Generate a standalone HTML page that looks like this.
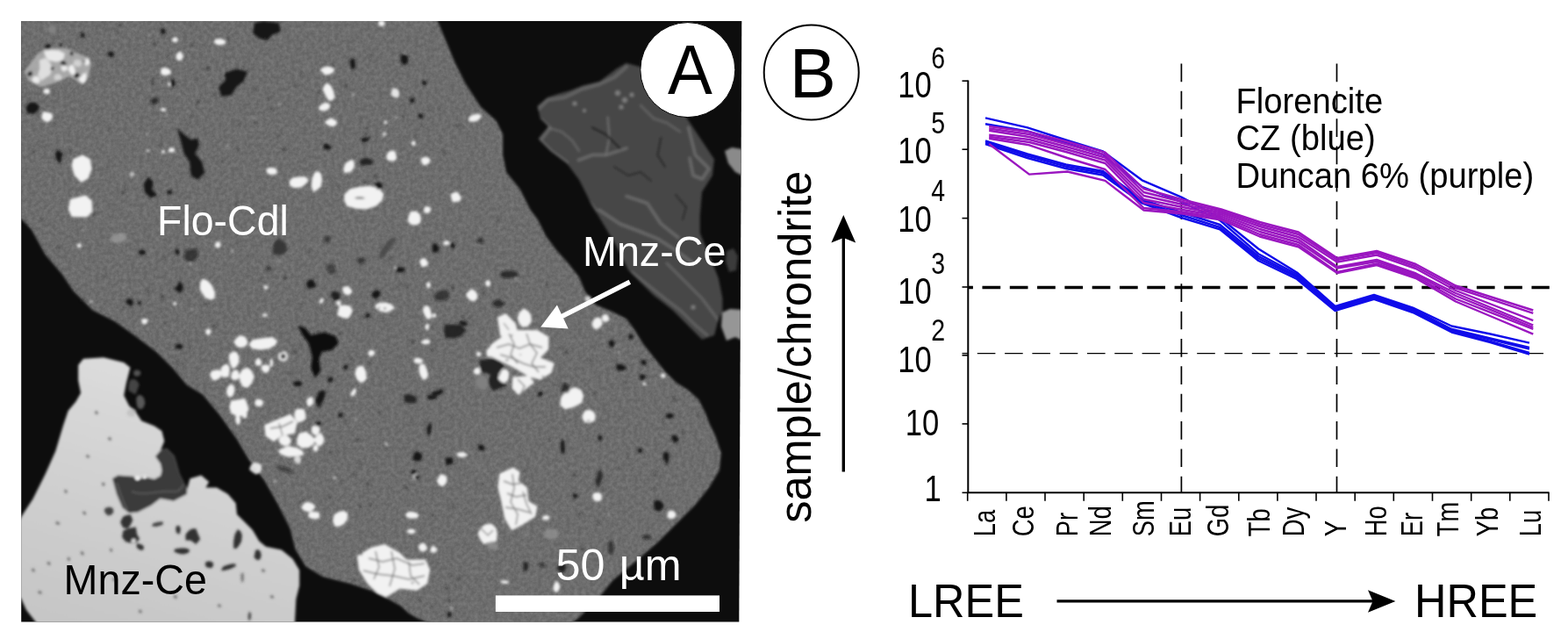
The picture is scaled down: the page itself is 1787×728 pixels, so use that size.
<!DOCTYPE html>
<html lang="en"><head><meta charset="utf-8"><title>Figure</title>
<style>
html,body{margin:0;padding:0;background:#fff;}
body{width:1787px;height:728px;overflow:hidden;}
svg{display:block;font-family:"Liberation Sans",sans-serif;}
</style></head><body>
<svg width="1787" height="728" viewBox="0 0 1787 728">
<defs>
<clipPath id="imgclip"><polygon points="24.2,24 845.3,24 842.3,708.4 24.2,708.4"/></clipPath>
<filter id="grain" x="20" y="20" width="830" height="692" filterUnits="userSpaceOnUse" color-interpolation-filters="sRGB">
<feTurbulence type="fractalNoise" baseFrequency="0.22" numOctaves="3" seed="4" result="t"/>
<feColorMatrix in="t" type="matrix" values="1.8 0 0 0 -0.46  1.8 0 0 0 -0.46  1.8 0 0 0 -0.46  0 0 0 0 1"/>
<feGaussianBlur stdDeviation="0.6"/>
</filter>
<linearGradient id="mnzg" gradientUnits="userSpaceOnUse" x1="150" y1="410" x2="60" y2="700"><stop offset="0" stop-color="#dcdcdc"/><stop offset="0.5" stop-color="#d0d0d0"/><stop offset="1" stop-color="#c6c6c6"/></linearGradient>
<clipPath id="dgclip"><polygon points="612.4,120.7 624.0,111.0 636.7,106.7 650.0,103.0 664.7,97.3 683.4,92.7 702.0,78.7 713.7,71.7 730.0,76.3 760.0,100.0 786.0,139.4 804.7,167.4 814.0,181.4 811.8,200.0 800.0,218.7 797.7,246.7 797.7,265.4 809.4,293.4 818.8,316.8 823.4,340.0 823.4,354.0 818.8,363.4 814.0,382.0 800.0,386.8 786.0,372.8 767.4,354.0 744.0,335.4 730.0,321.4 716.0,307.4 702.0,279.4 688.0,256.0 674.0,232.7 660.0,204.7 646.0,186.0 627.3,172.0 613.3,158.0 625.0,144.0 615.7,134.7"/></clipPath>
<clipPath id="mgclip"><polygon points="10.0,10.0 494.0,10.0 498.7,24.0 508.5,47.4 518.3,70.9 530.0,94.4 547.7,121.8 565.3,137.5 573.1,153.1 573.1,176.6 577.0,196.2 592.7,215.8 604.5,239.3 612.7,250.0 622.0,268.7 634.0,285.0 647.5,300.0 660.0,315.8 666.4,331.6 679.0,347.4 698.0,355.3 713.8,363.2 723.3,375.9 732.8,391.7 745.4,407.5 758.0,423.3 770.7,436.0 783.4,443.8 796.0,454.9 804.0,470.7 808.7,483.3 815.0,496.0 821.8,516.1 819.8,535.7 808.1,555.3 792.4,574.9 772.9,594.5 749.4,618.0 722.0,641.5 698.5,661.0 682.8,680.6 659.3,704.1 652.0,709.0 650.0,720.0 484.0,720.0 486.0,708.5 475.0,704.0 465.6,698.6 457.0,690.5 446.2,684.5 422.8,672.8 399.3,664.9 367.9,657.1 348.4,645.3 336.6,625.8 330.7,602.3 317.0,574.9 301.4,547.5 283.8,524.0 270.0,500.5 250.5,473.1 230.9,449.6 212.8,438.6 197.0,419.6 178.0,400.7 152.7,381.7 130.6,365.9 105.3,353.3 83.2,331.1 70.6,312.2 51.6,290.0 35.8,261.6 24.0,249.0 10.0,236.0"/></clipPath>
<filter id="soft" x="0" y="0" width="1787" height="728" filterUnits="userSpaceOnUse"><feGaussianBlur stdDeviation="1.5"/></filter>
</defs>
<rect width="1787" height="728" fill="#fff"/>
<g clip-path="url(#imgclip)">
<rect x="20" y="20" width="830" height="692" fill="#0d0d0d"/>
<g filter="url(#soft)">
<polygon points="612.4,120.7 624.0,111.0 636.7,106.7 650.0,103.0 664.7,97.3 683.4,92.7 702.0,78.7 713.7,71.7 730.0,76.3 760.0,100.0 786.0,139.4 804.7,167.4 814.0,181.4 811.8,200.0 800.0,218.7 797.7,246.7 797.7,265.4 809.4,293.4 818.8,316.8 823.4,340.0 823.4,354.0 818.8,363.4 814.0,382.0 800.0,386.8 786.0,372.8 767.4,354.0 744.0,335.4 730.0,321.4 716.0,307.4 702.0,279.4 688.0,256.0 674.0,232.7 660.0,204.7 646.0,186.0 627.3,172.0 613.3,158.0 625.0,144.0 615.7,134.7" fill="#464646"/>
<g clip-path="url(#dgclip)"><polyline points="614.0,124.0 624.0,114.0 643.6,111.0 663.2,101.5 682.8,96.0 700.4,88.0 714.1,76.0" fill="none" stroke="#757575" stroke-width="4" stroke-opacity="0.6" stroke-linejoin="round" stroke-linecap="round"/>
<polyline points="616.0,136.0 627.0,146.0 616.0,160.0 628.0,172.0 646.0,185.0" fill="none" stroke="#757575" stroke-width="4" stroke-opacity="0.6" stroke-linejoin="round" stroke-linecap="round"/>
<polyline points="659.3,182.5 675.0,176.6 690.6,176.6 714.1,168.8" fill="none" stroke="#757575" stroke-width="3.5" stroke-opacity="0.7" stroke-linejoin="round" stroke-linecap="round"/>
<polyline points="692.6,133.6 694.5,157.0 690.6,176.6" fill="none" stroke="#757575" stroke-width="2.5" stroke-opacity="0.7" stroke-linejoin="round" stroke-linecap="round"/>
<polyline points="784.6,145.3 792.4,176.6 808.0,192.3 800.3,204.0 790.0,200.0 786.0,180.0" fill="none" stroke="#757575" stroke-width="3.5" stroke-opacity="0.7" stroke-linejoin="round" stroke-linecap="round"/>
<polyline points="714.1,223.6 737.6,231.5 753.3,255.0 772.9,270.6" fill="none" stroke="#757575" stroke-width="3.5" stroke-opacity="0.7" stroke-linejoin="round" stroke-linecap="round"/>
<polyline points="682.8,239.3 706.3,255.0 729.8,264.0 749.4,272.0 770.0,285.0 790.0,300.0" fill="none" stroke="#757575" stroke-width="3.5" stroke-opacity="0.7" stroke-linejoin="round" stroke-linecap="round"/>
<polyline points="626.0,146.0 640.0,150.0 652.0,160.0 660.0,172.0" fill="none" stroke="#757575" stroke-width="2.5" stroke-opacity="0.6" stroke-linejoin="round" stroke-linecap="round"/>
<polyline points="640.0,186.0 652.0,204.0 664.0,220.0 680.0,240.0" fill="none" stroke="#757575" stroke-width="2.5" stroke-opacity="0.6" stroke-linejoin="round" stroke-linecap="round"/>
<polyline points="730.0,120.0 745.0,135.0 760.0,140.0 775.0,150.0" fill="none" stroke="#757575" stroke-width="2.5" stroke-opacity="0.6" stroke-linejoin="round" stroke-linecap="round"/>
<polyline points="760.0,300.0 780.0,320.0 800.0,340.0 815.0,360.0 825.0,375.0" fill="none" stroke="#757575" stroke-width="3" stroke-opacity="0.6" stroke-linejoin="round" stroke-linecap="round"/>
<polyline points="720.0,310.0 740.0,326.0 760.0,342.0 776.0,354.0 792.0,370.0 806.0,382.0" fill="none" stroke="#757575" stroke-width="3" stroke-opacity="0.6" stroke-linejoin="round" stroke-linecap="round"/>
<polyline points="675.0,145.3 690.6,153.1 706.3,168.8" fill="none" stroke="#1c1c1c" stroke-width="2.5" stroke-opacity="0.8" stroke-linejoin="round" stroke-linecap="round"/>
<polyline points="753.3,157.0 749.4,176.6 758.0,190.0" fill="none" stroke="#1c1c1c" stroke-width="2" stroke-opacity="0.8" stroke-linejoin="round" stroke-linecap="round"/>
<polyline points="700.0,190.0 716.0,200.0 730.0,196.0 742.0,206.0" fill="none" stroke="#1c1c1c" stroke-width="2" stroke-opacity="0.7" stroke-linejoin="round" stroke-linecap="round"/>
<polyline points="770.0,222.0 782.0,236.0 778.0,250.0" fill="none" stroke="#1c1c1c" stroke-width="2" stroke-opacity="0.7" stroke-linejoin="round" stroke-linecap="round"/>
<circle cx="704" cy="106" r="3" fill="#8a8a8a" fill-opacity="0.8"/>
<circle cx="712" cy="114" r="3" fill="#8a8a8a" fill-opacity="0.8"/>
<circle cx="720" cy="108" r="2.5" fill="#8a8a8a" fill-opacity="0.8"/>
<circle cx="708" cy="122" r="2.5" fill="#8a8a8a" fill-opacity="0.8"/>
<circle cx="655" cy="118" r="2.5" fill="#8a8a8a" fill-opacity="0.8"/>
<circle cx="666" cy="126" r="2" fill="#8a8a8a" fill-opacity="0.8"/>
<circle cx="745" cy="340" r="3" fill="#8a8a8a" fill-opacity="0.8"/>
<circle cx="790" cy="350" r="2.5" fill="#8a8a8a" fill-opacity="0.8"/></g>
<polygon points="826,172 834,168 846,170 846,200 838,196 830,186" fill="#8a8a8a"/>
<polygon points="823,356 832,352 846,353 846,388 838,384 828,388 822,372" fill="#969696"/>
<polygon points="828,286 836,283 841,292 839,308 831,310 827,298" fill="#3a3a3a"/>
<polygon points="10.0,10.0 494.0,10.0 498.7,24.0 508.5,47.4 518.3,70.9 530.0,94.4 547.7,121.8 565.3,137.5 573.1,153.1 573.1,176.6 577.0,196.2 592.7,215.8 604.5,239.3 612.7,250.0 622.0,268.7 634.0,285.0 647.5,300.0 660.0,315.8 666.4,331.6 679.0,347.4 698.0,355.3 713.8,363.2 723.3,375.9 732.8,391.7 745.4,407.5 758.0,423.3 770.7,436.0 783.4,443.8 796.0,454.9 804.0,470.7 808.7,483.3 815.0,496.0 821.8,516.1 819.8,535.7 808.1,555.3 792.4,574.9 772.9,594.5 749.4,618.0 722.0,641.5 698.5,661.0 682.8,680.6 659.3,704.1 652.0,709.0 650.0,720.0 484.0,720.0 486.0,708.5 475.0,704.0 465.6,698.6 457.0,690.5 446.2,684.5 422.8,672.8 399.3,664.9 367.9,657.1 348.4,645.3 336.6,625.8 330.7,602.3 317.0,574.9 301.4,547.5 283.8,524.0 270.0,500.5 250.5,473.1 230.9,449.6 212.8,438.6 197.0,419.6 178.0,400.7 152.7,381.7 130.6,365.9 105.3,353.3 83.2,331.1 70.6,312.2 51.6,290.0 35.8,261.6 24.0,249.0 10.0,236.0" fill="#6e6e6e"/>
<polygon points="10.0,612.0 24.0,589.0 37.3,568.8 51.7,540.0 63.3,514.0 71.9,485.2 77.7,467.9 86.3,457.8 92.1,447.7 89.2,433.3 89.2,416.0 95.0,408.7 118.0,407.3 141.2,413.0 148.4,418.8 144.0,436.0 141.2,450.6 147.0,462.0 155.6,470.8 161.3,479.4 175.8,485.2 184.4,491.0 187.3,502.5 183.0,513.0 190.2,511.0 198.8,519.8 204.6,540.0 213.3,557.3 216.6,545.3 229.3,541.4 238.2,549.0 234.4,555.4 247.0,555.4 259.8,563.0 268.7,573.2 270.0,585.9 277.6,593.6 287.8,603.7 295.4,616.4 303.0,622.8 320.9,626.6 333.6,636.8 341.2,649.5 341.2,667.3 337.4,682.5 336.0,709.0 336.0,720.0 44.0,720.0 41.0,709.0 30.0,695.0 24.0,682.0 10.0,676.0" fill="url(#mnzg)"/>
<polygon points="128.0,545.2 134.4,541.4 152.1,542.7 156.0,547.5 164.2,543.0 175.8,546.0 183.0,542.0 184.4,536.0 183.0,528.5 177.0,520.0 183.0,513.0 190.2,511.0 198.8,519.8 204.6,540.0 213.3,557.3 213.0,563.0 198.0,570.7 182.6,568.0 172.5,575.7 157.2,583.4 147.0,584.6 139.4,578.3 133.0,563.0" fill="#3a3a3a"/>
<path d="M133,550 C137,562 140,572 145,581 M150,560 C165,566 180,558 200,560 C204,560 207,556 209,552" fill="none" stroke="#666" stroke-width="1.6" stroke-opacity="0.8"/>
</g>
<g clip-path="url(#mgclip)"><rect x="20" y="20" width="830" height="692" filter="url(#grain)" opacity="0.075"/></g>
<g filter="url(#soft)">
<polygon points="27.4,82.0 42.2,62.0 52.0,54.7 75.6,54.7 89.2,61.0 101.6,65.8 104.0,73.3 100.3,89.3 94.2,96.7 79.3,86.9 63.3,94.3 47.2,99.2 32.4,91.8" fill="#b2b2b2" fill-opacity="0.85"/>
<polygon points="51.3,63.3 50.2,57.9 59.0,56.9 67.0,57.6 73.9,61.1 72.8,65.3 71.3,69.3 63.7,70.5 54.7,68.4" fill="#ececec" fill-opacity="0.95"/>
<polygon points="56.9,85.4 52.7,88.0 47.2,91.9 43.0,85.4 45.4,78.1 44.9,68.5 51.7,66.0 57.1,71.3 59.5,78.7" fill="#e6e6e6" fill-opacity="0.9"/>
<polygon points="74.9,80.4 72.5,81.6 70.5,80.0 69.4,77.8 70.1,75.4 72.2,74.3 74.8,74.1 76.6,76.0 77.3,78.9" fill="#eee" fill-opacity="0.95"/>
<polygon points="36.3,90.1 37.9,87.7 40.7,86.4 43.7,87.4 45.1,89.8 45.7,92.7 43.1,94.9 39.6,94.8 37.0,92.9" fill="#eee" fill-opacity="0.95"/>
<polygon points="86.2,75.4 83.8,73.7 83.8,71.2 84.8,68.5 88.3,68.1 91.8,68.8 92.8,71.6 92.8,74.5 89.6,76.3" fill="#ddd" fill-opacity="0.8"/>
<polygon points="70.5,88.0 70.3,90.6 66.8,91.4 63.1,91.5 61.5,89.1 61.9,87.0 63.4,84.8 67.0,84.2 69.6,85.9" fill="#ddd" fill-opacity="0.8"/>
<polygon points="85.8,81.1 85.4,85.0 82.4,85.6 79.8,82.8 78.0,79.6 78.4,76.3 80.1,74.5 82.8,73.8 84.9,77.4" fill="#f2f2f2"/>
<polygon points="95.8,69.4 97.5,67.6 99.7,66.6 101.4,68.6 102.7,70.9 101.3,73.1 99.5,74.7 97.4,73.9 95.9,72.0" fill="#f2f2f2"/>
<polygon points="98.5,89.8 97.5,92.4 95.8,94.8 93.0,94.0 90.9,92.6 89.8,89.9 91.5,87.4 94.2,87.1 97.1,87.0" fill="#f2f2f2"/>
<polygon points="96.6,88.9 94.5,89.1 93.4,87.3 93.3,85.4 94.6,84.0 96.3,83.6 98.2,84.1 98.7,86.0 98.5,88.1" fill="#f2f2f2"/>
<polygon points="50.7,106.1 48.8,104.4 50.1,102.3 52.3,101.1 55.2,100.9 56.6,102.8 56.9,104.6 56.1,106.7 53.1,107.3" fill="#f2f2f2"/>
<polygon points="54.6,55.9 51.8,55.9 50.2,53.5 52.6,51.8 54.6,49.7 57.6,50.9 58.3,53.5 57.0,55.5" fill="#161616"/>
<polygon points="70.5,53.1 69.7,54.7 68.4,53.5 67.2,52.5 68.0,51.2 69.1,49.8 70.7,50.5 71.1,52.0" fill="#161616"/>
<polygon points="73.8,75.0 71.2,74.1 69.4,73.1 68.6,71.0 70.1,68.8 73.2,69.0 74.7,70.8 76.2,73.2" fill="#161616" fill-opacity="0.8"/>
<polygon points="60.1,79.9 58.6,80.1 57.3,78.9 58.0,77.3 59.0,76.3 60.7,76.2 62.1,77.5 61.3,79.1" fill="#161616" fill-opacity="0.8"/>
<polygon points="32.4,87.2 30.9,84.7 32.3,82.3 34.5,81.1 36.8,82.0 37.1,84.2 36.4,85.8 35.0,86.5" fill="#161616"/>
<polygon points="90.2,84.4 91.1,87.0 88.5,88.0 86.7,89.4 84.9,87.8 84.1,85.5 86.0,83.9 88.2,82.4" fill="#161616"/>
<polygon points="83.6,61.9 82.5,63.2 80.7,63.2 79.6,61.7 79.8,60.0 81.1,58.8 82.9,58.8 83.5,60.4" fill="#161616"/>
<polygon points="93.0,37.2 95.3,37.2 96.4,39.1 96.9,41.1 95.4,42.8 93.2,42.4 91.7,41.1 92.0,39.1" fill="#161616"/>
<polygon points="123.5,60.4 125.7,59.8 127.9,59.2 130.0,61.0 129.5,63.8 127.2,65.3 124.9,64.4 123.0,62.9" fill="#161616"/>
<polygon points="55.3,31.3 57.6,28.5 61.0,29.6 64.2,30.9 63.8,34.4 63.0,37.6 59.7,38.7 56.7,37.2 54.4,34.7" fill="#828282"/>
<polygon points="182.9,81.7 183.8,78.0 188.0,77.1 191.5,77.9 194.3,79.9 195.1,83.3 191.9,85.5 188.3,86.0 184.0,85.3" fill="#f2f2f2"/>
<polygon points="202.8,60.1 205.5,58.6 207.7,61.0 209.1,64.0 207.8,66.9 205.7,69.0 202.9,69.1 200.7,66.4 200.6,62.5" fill="#f2f2f2"/>
<polygon points="196.5,47.3 195.9,45.4 196.8,43.7 198.5,42.4 201.0,42.4 202.8,44.1 202.7,46.3 201.3,48.2 198.7,48.1" fill="#f2f2f2"/>
<polygon points="253.2,51.2 249.0,51.4 245.5,50.1 243.8,47.7 245.0,45.1 249.1,43.9 253.2,44.6 256.9,46.3 257.1,49.4" fill="#f2f2f2"/>
<polygon points="47.4,134.6 47.7,131.1 49.6,127.1 54.5,128.1 59.1,129.2 60.3,133.4 58.0,136.9 54.2,139.6 50.0,137.4" fill="#f2f2f2"/>
<polygon points="83.2,181.2 94.3,176.4 102.8,181.2 104.7,192.2 100.6,203.3 92.7,208.0 84.8,200.1 81.6,189.1" fill="#f2f2f2"/>
<polygon points="80.0,227.0 97.4,222.3 104.7,228.6 105.3,241.2 99.0,247.5 81.6,246.9 77.8,238.0" fill="#f2f2f2"/>
<polygon points="198.0,173.2 195.5,173.5 192.6,173.6 191.8,171.5 192.3,169.7 194.2,168.6 196.7,168.0 198.8,169.5 199.5,171.5" fill="#f2f2f2"/>
<polygon points="184.8,171.2 186.2,170.7 187.5,171.5 187.8,172.9 187.6,174.2 186.4,174.7 185.3,174.5 184.2,173.8 183.9,172.4" fill="#f2f2f2"/>
<polygon points="169.1,173.0 168.1,173.1 167.2,172.6 167.0,171.6 167.4,170.6 168.3,170.1 169.3,170.5 170.1,171.3 170.0,172.4" fill="#f2f2f2"/>
<polygon points="188.9,126.2 187.0,127.0 185.0,126.6 183.4,125.9 182.9,124.6 183.9,123.2 186.1,123.1 188.0,123.5 189.3,124.7" fill="#f2f2f2"/>
<polygon points="151.5,195.3 153.0,197.0 153.6,199.0 152.4,200.6 150.7,201.8 148.5,201.3 147.4,199.3 147.6,197.2 149.4,196.1" fill="#f2f2f2" fill-opacity="0.6"/>
<polygon points="195.1,94.4 195.5,96.0 194.7,97.2 193.4,98.0 192.2,97.4 191.0,96.4 191.2,94.9 192.4,94.1 193.6,94.1" fill="#f2f2f2"/>
<polygon points="255.5,83.2 269.7,78.5 282.3,81.6 277.6,92.7 269.7,99.0 263.4,108.5 252.3,110.0 249.1,99.0 257.0,91.0" fill="#161616"/>
<polygon points="201.7,146.4 209.6,152.7 217.5,159.0 225.4,157.5 227.0,165.4 222.3,174.9 230.2,184.3 233.3,197.0 225.4,204.9 217.5,200.1 216.0,184.3 209.6,174.9 206.5,162.2" fill="#161616"/>
<polygon points="168.5,201.7 174.9,206.5 173.3,216.0 179.6,222.3 171.7,225.4 164.7,219.1 163.8,209.6" fill="#161616"/>
<polygon points="63.6,181.0 63.1,174.3 66.0,170.6 68.6,172.7 71.8,174.5 70.1,180.4 69.1,186.8 66.1,183.9" fill="#161616"/>
<polygon points="31.0,128.8 29.7,123.9 30.4,120.3 33.8,116.8 40.4,116.8 45.1,120.9 43.5,126.1 38.3,130.1" fill="#161616"/>
<polygon points="122.1,61.2 124.2,59.5 125.8,58.5 127.9,58.7 128.5,60.9 128.4,63.3 126.1,64.2 123.9,63.3" fill="#161616"/>
<polygon points="187.7,33.2 188.6,35.3 188.3,37.3 186.7,39.3 183.9,38.9 183.6,36.3 183.0,33.8 185.2,32.0" fill="#161616"/>
<polygon points="171.2,114.2 174.0,112.2 177.2,110.8 180.4,112.4 181.7,115.4 178.5,117.1 175.4,119.9 172.3,117.2" fill="#161616" fill-opacity="0.7"/>
<polygon points="194.1,97.1 193.9,93.6 195.3,91.1 197.5,89.9 198.8,92.6 200.0,94.9 198.7,97.4 196.4,99.3" fill="#161616"/>
<polygon points="196.1,217.8 196.6,219.9 194.9,221.1 192.9,221.8 190.6,220.7 190.2,217.9 192.4,216.4 194.6,216.4" fill="#161616"/>
<polygon points="376.2,84.8 370.3,85.4 367.2,82.3 364.6,79.2 368.7,76.8 373.1,75.5 377.8,76.4 381.5,79.0 379.8,82.3" fill="#f2f2f2"/>
<polygon points="374.3,114.5 370.7,108.4 367.6,101.5 369.9,97.0 372.9,94.2 377.4,98.0 380.3,104.1 381.4,111.0 378.7,114.7" fill="#f2f2f2"/>
<polygon points="365.9,126.3 362.9,124.6 363.8,121.4 366.5,118.7 370.9,116.8 375.0,117.7 376.2,120.6 375.0,124.1 370.4,126.4" fill="#f2f2f2"/>
<polygon points="381.0,136.3 384.2,138.5 383.6,141.8 380.0,144.2 375.4,143.5 372.1,141.7 370.0,138.8 373.4,136.4 377.1,134.3" fill="#f2f2f2"/>
<polygon points="454.0,102.5 455.3,105.9 454.8,110.1 451.6,111.4 448.6,110.6 445.5,108.3 446.1,104.1 447.9,100.4 451.4,100.8" fill="#f2f2f2" fill-opacity="0.9"/>
<polygon points="534.3,138.0 534.0,135.3 535.2,132.8 539.2,130.4 545.2,129.8 549.2,131.7 547.2,134.8 544.7,137.4 539.2,138.9" fill="#f2f2f2"/>
<polygon points="430.7,26.2 432.2,23.9 434.4,22.9 436.7,23.3 438.1,25.2 438.7,27.8 436.9,29.8 434.1,30.3 432.1,28.5" fill="#f2f2f2"/>
<polygon points="311.1,199.0 306.9,198.9 303.7,196.1 303.6,192.5 307.3,191.1 310.7,191.0 315.0,191.9 315.8,195.3 315.1,198.4" fill="#f2f2f2"/>
<polygon points="336.1,214.3 330.4,211.8 329.5,207.1 332.9,202.4 340.2,201.4 347.6,201.0 352.0,205.0 348.4,209.8 343.5,213.6" fill="#f2f2f2"/>
<polygon points="363.1,195.0 366.2,198.4 367.1,204.9 365.9,212.6 361.9,216.0 357.4,219.0 354.8,212.8 355.5,204.1 358.6,196.2" fill="#f2f2f2"/>
<polygon points="398.0,182.9 402.0,182.0 403.9,185.3 403.9,190.5 400.1,195.8 395.9,196.8 391.9,196.9 391.5,191.8 393.7,186.1" fill="#f2f2f2"/>
<polygon points="421.2,211.8 432.1,214.5 437.4,221.0 435.6,228.3 428.7,234.8 417.5,238.5 405.6,237.8 395.2,234.8 392.3,228.2 392.4,221.4 398.8,215.3 409.8,212.7" fill="#f2f2f2"/>
<polygon points="406.1,226.5 403.9,225.8 405.2,225.0 407.4,224.2 411.9,224.3 414.8,224.9 416.2,225.7 414.1,226.4 410.2,226.7" fill="#777"/>
<polygon points="441.3,182.5 440.3,178.0 441.7,173.9 445.5,171.6 450.1,172.0 451.4,176.3 452.4,180.1 449.8,183.6 445.6,183.4" fill="#f2f2f2"/>
<polygon points="480.7,185.6 479.6,182.7 480.7,179.7 484.0,178.8 487.4,179.3 490.5,181.6 489.6,185.2 486.9,187.6 482.9,188.7" fill="#f2f2f2"/>
<polygon points="513.3,221.9 516.9,219.2 521.2,218.4 523.8,221.8 525.8,225.3 524.2,229.3 520.1,229.9 515.7,230.4 514.5,226.2" fill="#f2f2f2"/>
<polygon points="483.5,239.3 483.5,236.7 485.6,234.8 488.2,235.5 490.9,236.4 490.8,239.4 489.6,241.8 487.0,242.8 484.6,241.6" fill="#f2f2f2"/>
<polygon points="439.1,141.5 438.0,140.7 437.7,139.4 438.0,138.0 439.4,137.6 440.5,138.1 441.4,139.0 441.2,140.2 440.4,141.1" fill="#f2f2f2"/>
<polygon points="438.1,150.3 439.9,150.6 440.7,152.3 439.8,153.8 438.9,155.4 437.0,155.4 436.1,153.7 435.2,152.1 436.5,150.8" fill="#f2f2f2" fill-opacity="0.7"/>
<polygon points="468.4,163.6 469.3,162.0 470.4,160.8 472.3,160.6 473.6,161.9 473.6,163.7 473.0,165.5 471.1,166.0 469.5,165.1" fill="#f2f2f2"/>
<polygon points="290.0,26.0 300.0,24.0 318.0,26.0 320.0,36.0 310.0,40.0 305.0,46.0 296.0,44.0 288.0,38.0" fill="#161616"/>
<polygon points="464.2,72.4 460.5,74.2 457.5,71.7 456.6,67.7 456.4,62.7 460.0,62.0 463.4,62.3 465.7,66.9" fill="#161616"/>
<polygon points="399.2,73.5 398.9,69.1 400.9,66.6 403.4,66.0 404.6,70.4 405.1,75.9 402.8,79.4 400.0,78.1" fill="#161616"/>
<polygon points="418.5,188.1 412.5,189.0 409.9,184.7 412.4,180.8 417.6,179.7 422.0,181.0 425.9,183.9 423.6,187.7" fill="#161616" fill-opacity="0.85"/>
<polygon points="368.1,165.2 371.4,163.6 374.8,164.9 376.8,166.5 378.0,169.1 373.9,170.7 369.3,170.1 369.1,167.5" fill="#161616"/>
<polygon points="419.9,160.0 417.8,161.6 413.9,162.0 412.4,159.9 411.1,157.9 414.4,156.9 417.3,156.9 421.0,157.7" fill="#161616"/>
<polygon points="426.6,209.9 429.6,207.9 433.2,207.4 435.4,209.7 436.0,212.3 434.3,215.3 429.8,215.8 428.4,212.5" fill="#161616"/>
<polygon points="472.2,116.6 469.7,117.4 467.2,116.7 467.1,114.3 467.5,112.2 469.5,111.6 472.0,111.6 472.4,114.1" fill="#161616"/>
<polygon points="476.9,129.0 479.6,129.6 481.6,130.4 482.5,132.8 481.2,135.3 478.6,135.0 476.8,133.8 476.9,131.8" fill="#161616"/>
<polygon points="485.5,92.7 486.1,94.3 486.1,96.5 483.9,97.3 481.5,96.7 481.3,94.3 481.4,91.8 483.9,92.1" fill="#161616"/>
<polygon points="139.8,275.9 133.3,276.7 128.1,276.0 125.1,272.8 128.1,268.0 134.5,265.4 140.2,265.4 144.2,267.4 144.8,271.7" fill="#a0a0a0" fill-opacity="0.7"/>
<polygon points="88.7,281.6 87.6,280.4 88.0,278.7 89.3,277.3 91.3,277.4 92.7,278.7 92.6,280.5 91.9,282.2 90.1,282.3" fill="#f2f2f2"/>
<polygon points="240.3,341.7 233.7,339.2 227.9,330.1 228.0,322.4 230.3,317.8 235.8,319.0 241.6,325.1 245.2,333.4 244.6,339.9" fill="#f2f2f2"/>
<polygon points="166.0,369.4 163.5,369.6 161.7,367.8 161.0,365.3 162.5,363.3 164.8,362.9 167.2,363.1 168.7,365.3 167.6,367.6" fill="#f2f2f2"/>
<polygon points="201.2,346.3 200.6,347.5 199.3,348.0 197.8,347.8 197.1,346.4 197.3,345.0 198.6,344.4 199.8,344.1 201.1,344.8" fill="#f2f2f2"/>
<polygon points="240.0,379.5 238.7,381.5 236.0,381.7 234.8,379.5 233.8,377.4 235.4,375.6 237.4,374.2 239.8,375.2 240.6,377.5" fill="#f2f2f2"/>
<polygon points="248.9,282.7 246.5,282.1 244.6,280.3 245.0,277.9 246.5,276.1 248.9,275.0 251.0,276.6 251.7,279.0 250.9,281.2" fill="#f2f2f2"/>
<polygon points="161.4,284.7 165.0,284.9 165.9,287.1 166.1,289.2 163.0,290.2 159.5,290.0 157.5,288.0 158.2,285.8" fill="#161616"/>
<polygon points="225.3,283.4 226.1,290.7 222.7,296.2 216.8,299.0 210.3,296.1 209.9,289.4 212.6,284.2 218.0,283.7" fill="#161616" fill-opacity="0.6"/>
<polygon points="204.5,320.2 208.0,323.9 208.9,327.7 208.0,331.3 205.2,333.7 202.0,331.9 198.5,328.4 202.2,325.1" fill="#161616"/>
<polygon points="146.9,347.4 144.0,346.0 143.6,341.7 146.7,340.1 149.1,340.4 151.6,341.8 151.9,345.7 150.0,349.5" fill="#161616"/>
<polygon points="160.9,345.8 160.1,347.1 158.5,347.4 157.2,346.5 156.2,344.8 157.6,343.2 159.5,343.4 160.7,344.3" fill="#161616"/>
<polygon points="203.2,397.4 199.2,396.9 199.6,394.5 201.1,392.4 205.1,391.5 208.1,393.3 208.2,395.5 207.4,398.1" fill="#161616"/>
<polygon points="204.0,285.6 204.7,287.7 203.7,290.3 201.0,289.9 199.6,288.3 199.6,286.5 199.7,283.7 202.6,283.6" fill="#161616"/>
<polygon points="468.6,256.2 464.8,252.1 465.4,246.8 467.9,241.1 474.3,240.6 478.7,244.0 479.9,248.7 479.2,253.9 474.3,256.5" fill="#f2f2f2"/>
<polygon points="488.2,235.4 490.5,237.2 490.5,239.9 489.4,242.1 487.2,243.3 484.8,242.5 482.6,240.5 483.4,237.7 485.3,235.7" fill="#f2f2f2"/>
<polygon points="487.8,299.3 487.2,302.6 484.2,303.8 480.7,304.3 479.3,301.1 477.9,297.9 480.2,294.8 483.9,294.0 486.4,296.6" fill="#f2f2f2"/>
<polygon points="392.3,334.8 390.7,331.5 390.1,328.3 392.6,326.4 396.6,326.0 399.9,328.9 401.7,332.5 399.4,334.9 396.4,336.5" fill="#f2f2f2"/>
<polygon points="384.3,359.3 385.4,353.6 386.7,348.0 393.1,347.5 399.0,348.6 402.0,353.4 400.0,358.4 396.5,363.1 390.2,361.9" fill="#f2f2f2"/>
<polygon points="384.9,347.8 383.4,346.7 383.0,344.8 383.9,342.9 386.0,342.5 388.0,343.0 388.5,345.0 388.4,346.9 386.8,348.2" fill="#f2f2f2"/>
<polygon points="368.6,343.1 366.9,345.4 365.3,345.8 364.0,345.7 363.6,343.9 365.0,341.5 366.6,339.5 368.2,339.3 368.5,341.0" fill="#f2f2f2"/>
<polygon points="450.0,350.7 445.7,353.9 440.1,356.3 433.0,354.6 428.1,351.4 427.5,347.3 432.8,344.8 439.7,344.5 446.1,346.7" fill="#f2f2f2"/>
<polygon points="483.2,349.5 485.7,348.0 489.0,348.9 491.1,354.4 492.4,360.5 490.0,363.5 486.7,363.8 483.9,359.2 481.7,353.6" fill="#f2f2f2"/>
<polygon points="496.9,360.8 495.6,361.7 494.0,362.0 492.6,360.8 492.8,359.1 493.5,357.7 495.2,356.8 496.8,357.7 497.2,359.3" fill="#f2f2f2"/>
<polygon points="535.5,341.9 532.4,339.1 531.0,335.0 533.8,331.9 537.6,329.0 541.9,331.8 544.4,335.7 543.9,340.3 540.2,343.4" fill="#f2f2f2"/>
<polygon points="489.6,321.8 490.8,323.4 490.9,325.7 489.8,327.2 488.4,328.2 486.7,327.4 485.7,325.1 486.4,322.6 487.9,321.2" fill="#f2f2f2"/>
<polygon points="485.4,370.1 486.5,368.5 488.2,368.9 489.4,370.7 489.1,373.3 488.2,375.5 486.6,376.2 484.9,375.1 484.2,372.3" fill="#f2f2f2"/>
<polygon points="482.0,387.9 484.5,386.4 488.2,386.7 490.2,388.6 489.9,390.6 487.9,392.2 484.6,392.2 481.3,391.7 479.6,389.6" fill="#f2f2f2"/>
<polygon points="283.5,392.5 287.7,387.0 298.8,385.2 310.5,383.9 316.4,388.5 313.7,393.6 306.7,397.2 297.1,398.8 287.4,397.3" fill="#f2f2f2"/>
<polygon points="320.8,400.4 324.5,400.0 327.4,402.4 328.7,405.9 327.4,409.3 324.8,411.9 321.0,411.5 317.7,409.8 316.7,406.1 317.7,402.6" fill="#e0e0e0"/>
<polygon points="320.2,405.0 321.5,403.3 323.8,403.3 325.4,404.9 325.3,407.0 323.8,408.5 321.6,408.7 320.2,407.1" fill="#222"/>
<polygon points="297.1,410.2 298.3,412.9 297.4,416.1 294.7,416.7 292.0,416.5 290.9,413.9 291.1,411.2 292.6,409.1 295.2,407.6" fill="#f2f2f2"/>
<polygon points="307.7,417.6 307.3,421.1 305.6,424.1 302.0,424.9 299.2,422.8 297.7,419.8 298.5,416.2 301.9,415.5 304.9,415.6" fill="#f2f2f2"/>
<polygon points="307.7,414.2 307.7,411.0 308.6,408.5 310.0,409.1 311.1,410.7 311.2,414.0 310.8,417.1 309.5,418.0 308.1,417.4" fill="#f2f2f2"/>
<polygon points="427.3,403.2 425.3,404.8 422.9,406.3 420.4,404.9 419.3,402.7 420.0,400.4 422.0,398.8 424.9,398.9 427.1,400.6" fill="#f2f2f2"/>
<polygon points="409.5,416.8 414.1,417.1 417.3,423.7 417.9,431.2 414.7,435.3 410.8,436.0 406.8,432.5 404.3,425.7 406.1,419.6" fill="#f2f2f2"/>
<polygon points="471.8,410.3 472.9,407.8 476.5,407.5 479.3,408.5 481.9,410.1 481.5,412.7 478.5,414.3 474.9,414.2 472.0,412.8" fill="#f2f2f2"/>
<polygon points="482.0,432.8 479.0,428.2 477.4,422.8 477.6,417.0 480.6,414.0 484.4,415.8 486.6,421.2 488.2,427.4 485.8,431.9" fill="#f2f2f2"/>
<polygon points="400.4,451.5 399.4,450.1 400.1,447.2 401.9,444.8 404.2,442.3 406.0,443.0 406.0,445.9 404.7,449.3 402.3,451.3" fill="#f2f2f2"/>
<polygon points="559.2,397.7 561.7,399.3 562.0,402.9 560.9,406.3 558.0,406.4 555.2,406.2 554.5,402.8 554.5,399.5 556.4,396.6" fill="#f2f2f2"/>
<polygon points="547.7,423.4 546.9,425.8 544.6,427.1 542.3,426.4 539.8,424.9 539.9,421.9 542.1,420.0 544.7,419.6 547.2,420.8" fill="#f2f2f2"/>
<polygon points="558.9,323.9 558.4,326.0 556.2,326.0 554.3,325.3 553.1,323.4 553.7,321.1 555.8,320.3 557.7,320.8 559.1,322.1" fill="#f2f2f2"/>
<polygon points="548.0,401.9 547.7,403.7 547.2,405.4 545.4,405.6 543.8,405.0 543.3,403.5 543.1,401.7 544.6,400.4 546.3,401.1" fill="#f2f2f2"/>
<polygon points="506.6,275.1 508.8,274.0 511.1,275.1 512.4,276.3 512.8,278.0 510.4,279.0 507.6,279.5 505.2,278.3 504.8,276.4" fill="#f2f2f2"/>
<polygon points="356.4,459.2 354.4,460.6 352.5,459.1 351.8,456.7 351.9,454.3 353.3,452.5 355.3,452.0 356.6,454.1 357.0,456.5" fill="#f2f2f2"/>
<polygon points="302.3,361.1 299.8,360.8 298.8,359.5 298.7,358.1 300.3,357.0 302.9,357.0 304.6,357.9 305.3,359.2 304.8,360.6" fill="#f2f2f2" fill-opacity="0.8"/>
<polygon points="301.6,325.3 303.3,324.7 304.5,325.9 305.7,327.3 304.7,328.9 303.2,329.8 301.5,329.5 300.8,328.0 300.4,326.4" fill="#f2f2f2"/>
<polygon points="316.9,290.9 310.6,288.9 311.1,281.8 312.5,275.9 317.3,271.2 322.9,274.5 326.4,279.3 327.1,286.0 322.2,289.8" fill="#303030" fill-opacity="0.9"/>
<polygon points="339.4,370.6 348.0,373.8 354.3,381.7 370.0,378.5 382.7,383.3 385.9,391.2 378.0,399.0 367.0,400.7 363.8,408.6 365.3,422.8 359.0,430.7 354.3,419.6 355.9,407.0 352.0,391.7 344.8,381.7" fill="#0c0c0c"/>
<polygon points="450.6,275.0 443.6,284.6 437.4,292.6 431.8,296.5 432.1,291.5 434.5,284.0 441.7,274.9 447.2,270.7 451.0,269.6" fill="#454545" fill-opacity="0.8"/>
<polygon points="425.7,331.9 429.2,330.3 433.1,332.0 433.5,335.8 431.6,338.8 427.8,340.6 424.1,338.3 423.5,334.6" fill="#161616"/>
<polygon points="358.9,323.0 360.5,326.9 355.8,328.0 351.4,328.9 349.5,325.5 349.2,322.0 352.2,318.7 357.5,319.0" fill="#161616"/>
<polygon points="384.0,332.6 387.8,334.5 387.5,338.8 385.9,342.9 381.2,343.3 379.0,339.7 376.6,335.9 379.3,331.7" fill="#161616" fill-opacity="0.9"/>
<polygon points="371.4,302.1 376.4,300.6 380.1,300.9 382.0,304.3 383.4,309.0 379.9,312.3 375.5,312.0 373.1,307.9" fill="#161616" fill-opacity="0.5"/>
<polygon points="412.3,293.6 416.7,294.1 416.2,297.6 413.6,300.0 409.5,300.9 407.5,298.0 407.4,295.5 409.1,293.3" fill="#161616" fill-opacity="0.6"/>
<polygon points="376.6,273.6 375.3,276.4 372.1,276.6 370.2,274.4 369.1,271.6 371.7,270.1 374.5,268.1 376.0,271.1" fill="#161616" fill-opacity="0.6"/>
<polygon points="456.9,310.6 452.9,310.5 451.0,307.3 453.0,304.0 457.1,304.5 460.4,304.8 461.6,307.5 459.8,309.8" fill="#161616"/>
<polygon points="500.1,281.4 500.6,284.9 497.6,287.8 492.9,287.4 492.6,282.8 492.5,279.4 495.4,276.5 498.5,279.1" fill="#161616"/>
<polygon points="515.8,283.3 513.7,281.1 512.2,279.2 513.2,277.0 515.3,275.7 517.2,277.0 518.0,278.8 518.9,282.0" fill="#161616"/>
<polygon points="548.4,269.7 550.6,272.0 551.4,274.5 550.7,277.3 547.7,277.6 545.0,276.7 543.0,273.8 545.6,271.4" fill="#161616" fill-opacity="0.6"/>
<polygon points="497.7,342.5 494.0,337.4 498.2,333.6 502.2,330.4 510.1,330.3 511.5,334.9 512.1,338.7 507.0,342.4" fill="#161616" fill-opacity="0.6"/>
<polygon points="525.3,369.8 531.7,376.2 525.8,382.8 517.8,385.4 507.5,385.2 505.9,377.6 506.4,370.1 516.3,369.6" fill="#161616" fill-opacity="0.85"/>
<polygon points="524.7,368.9 522.1,366.4 524.8,365.4 528.0,365.4 531.4,367.1 533.6,369.5 531.6,370.9 528.0,371.0" fill="#161616"/>
<polygon points="475.4,454.1 473.7,459.3 466.8,459.3 461.5,458.5 460.6,454.6 459.9,449.9 466.2,448.9 471.2,450.6" fill="#161616" fill-opacity="0.85"/>
<polygon points="502.8,448.3 501.2,450.0 497.3,450.8 492.1,450.3 491.3,447.6 494.8,446.0 498.6,445.3 501.7,446.5" fill="#161616"/>
<polygon points="370.4,450.8 368.2,456.9 363.0,459.5 358.7,458.0 361.3,451.5 363.1,446.8 367.2,444.4 369.3,447.1" fill="#161616"/>
<polygon points="342.6,434.6 344.6,437.2 342.7,440.0 339.9,439.9 337.2,439.5 336.6,436.9 338.0,434.9 340.1,433.8" fill="#161616"/>
<polygon points="374.3,430.9 375.8,429.2 378.3,429.5 379.9,431.6 378.7,433.8 377.1,436.2 374.7,434.8 372.5,433.0" fill="#161616"/>
<polygon points="552.6,411.7 556.3,410.9 559.5,413.4 561.5,418.5 557.9,422.2 553.6,422.8 548.7,420.8 550.2,415.0" fill="#161616" fill-opacity="0.7"/>
<polygon points="304.6,308.5 303.1,307.1 303.2,305.3 304.2,304.0 306.1,302.8 308.0,304.3 308.7,306.8 307.2,309.2" fill="#161616" fill-opacity="0.6"/>
<polygon points="418.2,362.2 416.2,361.1 417.0,359.0 417.7,357.1 419.8,357.0 421.8,358.1 421.9,360.5 420.0,361.5" fill="#161616"/>
<polygon points="366.3,447.3 370.0,443.6 371.1,448.1 368.5,455.7 365.4,462.9 362.1,464.3 360.4,460.9 362.8,452.7" fill="#161616" fill-opacity="0.9"/>
<polygon points="339.3,439.7 336.8,440.3 335.1,438.4 333.7,436.1 335.9,434.4 338.1,434.3 340.2,435.2 340.8,437.6" fill="#161616"/>
<polygon points="396.1,420.6 393.8,421.3 391.8,419.8 391.0,417.5 393.0,416.3 394.8,415.2 396.5,416.4 396.5,418.4" fill="#161616"/>
<polygon points="546.3,410.6 568.4,407.5 574.8,417.0 566.9,426.4 577.9,439.0 562.0,445.4 555.8,436.0 559.0,426.4 547.9,423.3" fill="#222"/>
<polygon points="543.5,440.1 541.5,435.8 543.0,431.0 547.2,428.4 552.1,428.7 555.8,431.7 556.7,436.2 555.7,440.7 552.0,444.3 546.8,443.6" fill="#808080"/>
<polygon points="566.9,361.6 576.3,356.9 587.4,368.0 590.6,379.0 581.0,390.0 570.0,382.2" fill="#f2f2f2"/>
<polygon points="595.1,372.8 591.4,368.1 589.6,362.2 591.8,355.7 597.0,351.3 602.1,354.6 605.5,359.5 605.7,366.9 601.0,372.2" fill="#f2f2f2"/>
<polygon points="560.5,391.7 571.6,383.8 590.6,375.9 612.7,375.9 625.3,383.8 625.3,398.0 615.9,407.5 631.7,413.8 628.5,424.8 615.9,432.7 603.2,429.6 587.4,420.0 574.8,413.8 559.0,405.9 554.2,401.0" fill="#f2f2f2"/>
<polygon points="584.2,429.6 603.2,428.0 608.9,435.9 590.6,450.0 583.6,442.2" fill="#f2f2f2"/>
<polygon points="572.4,420.9 576.7,420.6 579.9,423.2 580.2,428.1 578.8,433.7 574.3,436.6 570.5,434.4 567.5,430.9 570.0,425.6" fill="#f2f2f2"/>
<polygon points="546.1,424.3 543.9,425.0 541.7,424.3 539.8,422.5 541.1,420.2 542.7,418.8 544.8,418.7 547.0,419.8 547.0,422.2" fill="#f2f2f2"/>
<polygon points="548.2,403.7 547.5,405.3 546.1,406.0 544.4,405.9 543.2,404.6 543.3,402.8 544.4,401.4 546.2,401.2 547.8,401.9" fill="#f2f2f2"/>
<polygon points="662.5,444.5 665.1,450.5 663.2,459.0 653.6,463.9 644.2,466.4 638.4,461.7 639.0,453.5 645.3,444.8 655.7,441.0" fill="#f2f2f2"/>
<polygon points="677.9,479.0 672.7,481.8 667.0,481.6 663.7,477.6 663.8,472.7 666.6,467.8 672.6,466.8 677.0,469.6 678.9,473.9" fill="#f2f2f2"/>
<polygon points="676.1,373.2 674.3,369.1 676.6,364.3 679.9,361.6 683.5,361.8 685.8,364.8 686.8,369.8 683.1,373.4 679.2,375.7" fill="#f2f2f2"/>
<polygon points="690.5,357.7 692.6,359.6 694.5,362.4 693.5,366.0 690.7,366.8 688.3,366.7 686.3,364.5 685.8,360.9 687.9,358.5" fill="#f2f2f2"/>
<polygon points="669.5,337.4 671.9,337.2 673.3,339.2 673.4,341.5 672.2,343.7 669.7,344.3 667.3,343.1 666.6,340.6 667.5,338.4" fill="#f2f2f2" fill-opacity="0.8"/>
<polygon points="555.0,319.3 557.2,319.3 558.8,321.1 558.4,323.6 557.5,325.5 555.6,326.5 553.9,325.1 553.1,323.1 553.7,321.1" fill="#f2f2f2"/>
<polygon points="753.4,426.5 754.9,425.3 756.7,425.9 758.2,426.7 758.3,428.5 757.6,430.0 755.9,430.4 754.0,430.2 753.0,428.5" fill="#f2f2f2"/>
<polygon points="736.4,438.1 735.3,439.0 734.2,439.2 733.0,438.8 732.3,437.6 732.6,436.1 734.0,435.8 735.3,435.8 736.0,436.9" fill="#f2f2f2"/>
<polygon points="569.9,311.3 574.9,308.6 581.8,308.3 589.7,309.7 591.1,314.2 583.8,316.4 577.0,317.1 570.2,315.3" fill="#161616" fill-opacity="0.7"/>
<polygon points="567.9,340.7 572.7,343.4 575.8,346.2 572.1,349.0 566.0,350.5 562.0,347.8 560.5,345.5 563.0,343.4" fill="#161616" fill-opacity="0.7"/>
<polygon points="700.1,390.0 700.7,393.5 698.3,395.2 695.7,395.9 694.4,393.2 693.1,389.8 695.7,388.1 698.5,386.7" fill="#161616"/>
<polygon points="706.7,422.6 702.7,421.4 702.0,417.8 704.5,415.1 708.2,414.9 711.1,416.3 714.8,419.4 710.7,422.1" fill="#161616"/>
<polygon points="734.7,430.9 733.2,432.9 730.1,433.6 729.4,430.4 728.4,427.6 731.2,426.3 733.8,426.7 736.2,428.4" fill="#161616"/>
<polygon points="766.7,501.5 764.9,499.2 766.3,496.2 769.6,495.4 771.7,497.6 774.0,500.4 772.0,503.6 768.3,504.8" fill="#161616"/>
<polygon points="758.8,475.5 759.2,471.9 763.0,470.8 765.9,471.2 768.2,472.7 767.9,475.1 765.7,476.6 762.5,477.1" fill="#161616"/>
<polygon points="759.8,515.0 762.6,516.3 762.5,521.3 762.0,525.4 759.6,530.1 757.7,524.6 755.6,521.1 756.4,515.2" fill="#161616"/>
<polygon points="645.8,436.7 648.4,439.9 650.0,443.7 647.3,447.4 642.8,447.8 638.7,445.4 640.6,441.2 641.1,436.7" fill="#161616" fill-opacity="0.7"/>
<polygon points="726.8,515.2 727.1,512.9 727.4,510.2 730.0,511.2 732.2,511.5 732.1,513.7 731.2,515.6 729.1,516.0" fill="#161616"/>
<polygon points="681.8,496.0 684.3,496.3 686.5,497.2 686.5,499.5 685.2,501.2 683.1,502.7 681.6,500.5 681.6,498.6" fill="#161616"/>
<polygon points="639.8,516.5 639.4,510.3 639.0,504.0 640.5,500.6 642.1,501.0 642.6,507.0 642.3,511.7 641.4,514.7" fill="#161616"/>
<polygon points="545.7,513.1 545.2,510.4 544.8,507.6 547.4,506.3 550.1,507.1 552.0,509.4 552.1,513.0 548.5,513.3" fill="#161616"/>
<polygon points="617.9,446.7 619.4,448.6 617.5,450.2 615.8,452.4 613.8,450.5 612.1,448.4 614.2,446.7 616.0,445.7" fill="#161616"/>
<polygon points="732.7,409.9 734.7,410.0 736.6,411.8 736.7,415.5 734.1,416.4 732.2,415.8 730.8,414.0 730.0,410.5" fill="#161616"/>
<polygon points="720.5,386.4 718.2,386.6 716.0,385.7 716.1,383.4 716.7,381.2 719.1,380.1 721.5,381.6 721.8,384.3" fill="#161616"/>
<polygon points="266.2,389.4 269.2,385.5 273.1,381.9 278.9,383.3 281.9,387.4 282.2,392.3 278.1,395.6 272.8,396.2 268.7,393.6" fill="#f2f2f2"/>
<polygon points="239.0,426.6 241.4,422.6 245.8,421.5 250.3,421.3 252.3,424.9 251.8,429.2 248.2,432.5 243.2,433.8 240.6,430.2" fill="#f2f2f2"/>
<polygon points="251.2,424.5 252.2,418.6 255.2,415.7 258.6,414.5 261.8,417.9 261.7,423.9 260.6,429.4 257.0,429.7 253.3,429.9" fill="#f2f2f2"/>
<polygon points="260.8,410.5 261.0,404.0 264.9,400.8 269.4,400.8 272.4,406.1 272.6,412.8 269.6,417.6 265.5,420.4 262.5,415.3" fill="#f2f2f2"/>
<polygon points="271.6,422.7 272.6,426.7 272.6,431.0 269.4,433.1 266.0,433.0 263.0,430.4 263.6,426.2 265.2,422.9 268.3,421.1" fill="#f2f2f2"/>
<polygon points="286.9,436.8 282.1,442.0 276.5,440.6 273.6,435.0 272.3,427.8 276.1,420.8 282.1,418.8 286.9,422.6 289.8,429.3" fill="#f2f2f2"/>
<polygon points="264.5,438.0 267.2,440.6 267.5,445.6 266.1,449.8 263.5,452.4 259.9,452.0 257.8,446.8 259.3,441.6 261.4,438.2" fill="#f2f2f2"/>
<polygon points="263.4,471.0 261.3,463.8 263.2,456.6 271.0,455.3 279.0,453.8 282.1,460.7 283.5,467.3 278.9,473.5 270.7,474.4" fill="#f2f2f2"/>
<polygon points="272.0,484.0 270.0,483.5 268.8,480.5 268.2,476.9 269.2,473.6 271.0,471.8 272.8,473.8 274.1,477.0 273.7,481.3" fill="#f2f2f2"/>
<polygon points="280.1,476.4 278.2,477.3 276.6,475.5 276.4,472.9 277.1,470.7 278.7,468.7 280.8,469.8 281.8,472.2 281.5,474.7" fill="#f2f2f2"/>
<polygon points="300.1,458.8 299.0,462.0 295.8,463.2 292.6,462.7 290.3,460.6 290.6,457.8 292.0,455.0 295.5,454.7 298.9,455.7" fill="#f2f2f2"/>
<polygon points="301.1,484.3 312.2,479.6 331.1,471.7 339.0,481.1 335.9,493.8 320.0,497.0 312.2,503.3 302.7,497.0" fill="#f2f2f2"/>
<polygon points="336.4,477.5 335.2,472.2 336.8,466.5 341.9,465.6 346.7,466.4 348.4,471.6 348.6,476.9 344.7,480.1 339.9,481.8" fill="#f2f2f2"/>
<polygon points="352.3,463.4 349.9,461.2 349.4,457.7 350.0,454.1 352.8,453.2 355.7,453.5 357.3,456.5 356.9,459.9 354.9,461.8" fill="#f2f2f2"/>
<polygon points="355.5,493.3 354.8,489.5 356.0,485.3 359.7,485.0 363.1,485.8 364.8,489.6 363.5,493.4 361.2,496.1 358.0,495.5" fill="#f2f2f2"/>
<polygon points="368.3,496.7 369.7,501.0 368.2,505.2 365.1,508.3 361.0,507.3 358.9,502.9 359.1,498.0 362.1,495.3 365.6,493.0" fill="#f2f2f2"/>
<polygon points="357.4,506.2 351.8,509.9 344.1,510.7 338.3,506.2 338.3,500.0 340.8,493.7 348.9,491.4 354.7,496.0 359.9,500.4" fill="#f2f2f2"/>
<polygon points="317.6,502.8 318.1,498.8 321.8,496.4 326.6,495.7 330.4,498.5 332.2,502.8 329.5,506.9 324.4,508.6 320.0,506.2" fill="#f2f2f2"/>
<polygon points="338.5,510.1 345.1,513.8 346.3,518.5 337.1,519.9 328.6,520.7 320.7,518.0 316.4,513.9 321.4,510.8 328.4,507.9" fill="#f2f2f2"/>
<polygon points="340.0,528.4 337.5,527.8 335.5,525.8 334.8,522.4 337.0,520.2 339.3,519.4 342.0,520.1 343.1,523.4 342.5,526.9" fill="#f2f2f2" fill-opacity="0.8"/>
<polygon points="359.5,514.6 357.5,513.4 356.4,510.9 357.3,508.4 358.6,506.5 360.5,507.0 362.5,508.0 363.0,511.1 361.7,513.7" fill="#f2f2f2"/>
<polygon points="298.2,534.3 296.3,538.6 291.8,540.4 287.8,538.1 284.1,534.8 285.8,530.2 289.1,526.8 293.6,527.5 297.7,529.6" fill="#f2f2f2" fill-opacity="0.9"/>
<polygon points="356.5,581.3 352.2,583.5 347.2,582.0 343.2,579.0 345.1,575.0 348.6,572.1 353.7,572.6 357.8,574.5 359.5,578.2" fill="#f2f2f2"/>
<polygon points="351.5,585.4 354.2,582.6 359.1,583.1 364.0,583.8 364.2,587.1 364.1,590.4 359.1,591.5 354.5,590.7 351.2,588.5" fill="#f2f2f2"/>
<polygon points="396.6,585.0 395.7,592.3 392.0,597.1 387.3,599.8 381.5,599.7 379.2,593.5 380.8,586.3 386.1,583.1 391.6,581.7" fill="#f2f2f2"/>
<polygon points="509.5,547.7 507.9,551.6 504.3,554.6 500.2,552.2 497.7,547.9 499.9,543.6 502.3,540.2 506.1,540.9 509.1,543.4" fill="#f2f2f2"/>
<polygon points="475.7,589.9 470.7,590.7 466.1,590.4 462.7,588.4 462.2,585.4 465.6,583.0 470.9,583.0 475.0,584.4 477.5,587.0" fill="#f2f2f2"/>
<polygon points="464.9,607.0 463.2,605.2 465.2,603.5 467.9,602.5 471.2,602.8 473.3,604.4 473.0,606.4 470.9,607.9 467.6,608.2" fill="#f2f2f2"/>
<polygon points="476.6,544.0 474.8,545.3 473.0,546.3 471.1,545.2 470.5,542.9 471.2,540.8 472.8,539.8 474.7,539.8 476.0,541.6" fill="#f2f2f2"/>
<polygon points="379.6,544.4 379.7,543.4 380.6,542.9 381.5,543.1 382.3,543.7 382.7,544.7 381.7,545.3 380.9,545.8 379.8,545.5" fill="#f2f2f2"/>
<polygon points="439.2,507.0 438.8,506.0 439.0,505.1 439.7,504.3 440.8,504.4 441.4,505.1 441.7,506.1 441.1,507.0 440.2,507.4" fill="#f2f2f2"/>
<polygon points="480.8,522.1 478.7,525.2 474.8,525.5 470.1,523.7 471.1,518.7 473.3,514.0 478.3,515.3 481.2,518.3" fill="#161616"/>
<polygon points="488.4,484.2 490.3,480.5 491.9,485.4 491.3,491.1 490.2,494.6 488.2,496.9 486.6,492.5 486.6,486.4" fill="#161616"/>
<polygon points="497.7,453.9 493.8,454.7 490.4,455.7 487.6,454.0 486.4,451.4 490.0,449.7 493.5,450.7 498.0,451.1" fill="#161616"/>
<polygon points="502.4,442.6 503.9,444.2 505.8,445.8 504.4,447.7 502.4,449.0 499.6,448.4 498.7,445.6 500.8,444.1" fill="#161616"/>
<polygon points="388.6,470.4 390.9,471.3 390.7,473.7 389.6,475.6 387.4,476.0 386.1,474.5 385.4,472.7 386.1,470.4" fill="#161616"/>
<polygon points="364.8,483.7 363.9,486.1 361.3,485.7 359.8,483.7 360.6,481.7 361.9,480.5 363.9,480.3 366.3,481.4" fill="#161616"/>
<polygon points="314.3,529.6 322.5,531.6 329.0,533.6 334.0,537.0 334.9,540.0 327.0,538.0 319.4,536.6 315.9,532.9" fill="#161616" fill-opacity="0.5"/>
<polygon points="474.6,538.6 473.3,540.3 471.2,541.2 468.7,540.1 468.9,537.4 469.9,535.2 472.3,535.3 474.7,536.1" fill="#161616"/>
<polygon points="569.2,539.6 584.9,532.6 592.7,537.7 590.8,547.5 600.6,555.3 602.5,571.0 612.3,576.8 610.3,588.6 594.7,598.4 582.9,604.3 575.1,590.5 571.2,571.0 567.3,555.3" fill="#f2f2f2"/>
<polygon points="566.1,616.5 558.3,617.8 551.2,620.0 547.0,613.9 544.4,607.8 547.6,602.1 552.4,597.5 559.8,596.4 565.5,601.4 566.8,608.6" fill="#f2f2f2"/>
<polygon points="520.1,516.6 523.8,515.5 527.9,515.1 531.1,516.5 533.0,518.5 530.0,520.2 526.5,521.3 522.8,520.3 520.7,518.7" fill="#f2f2f2"/>
<polygon points="481.4,618.4 484.5,619.6 486.1,622.2 487.1,625.6 484.2,627.8 480.8,628.7 478.1,626.5 476.8,623.2 478.3,620.0" fill="#f2f2f2"/>
<polygon points="498.5,625.3 497.4,628.0 495.3,629.8 492.7,629.4 490.2,628.1 490.6,625.3 491.6,623.1 494.1,621.6 496.2,623.4" fill="#f2f2f2"/>
<polygon points="407.0,633.6 422.8,623.8 438.4,620.0 455.7,629.7 463.5,637.5 485.0,637.5 490.1,649.3 487.0,665.0 475.2,672.8 455.7,670.8 440.0,680.6 430.0,676.0 418.8,665.0 409.0,649.3" fill="#f2f2f2"/>
<polygon points="678.8,561.1 683.0,561.2 685.8,563.6 686.0,566.8 685.1,570.4 680.6,571.3 676.5,570.0 675.6,566.6 675.2,563.1" fill="#f2f2f2"/>
<polygon points="765.9,591.0 762.6,591.0 760.2,588.5 760.8,585.2 762.2,582.0 765.8,581.5 769.2,582.9 770.7,586.5 769.1,589.9" fill="#f2f2f2"/>
<polygon points="631.6,674.1 630.4,669.9 631.4,666.0 633.1,662.6 636.1,662.9 637.8,666.2 638.2,670.0 636.7,672.8 634.5,675.0" fill="#f2f2f2"/>
<polygon points="574.9,664.9 572.0,664.4 570.6,663.3 570.7,662.0 573.5,661.2 576.7,661.3 579.1,662.1 579.9,663.4 578.5,664.7" fill="#f2f2f2"/>
<polygon points="632.8,613.8 626.8,614.8 621.9,612.4 619.9,608.5 621.2,604.3 626.3,602.3 631.9,602.6 636.4,605.6 636.3,610.2" fill="#909090" fill-opacity="0.8"/>
<polygon points="561.1,626.2 556.7,626.0 555.7,622.4 555.9,618.9 559.8,617.5 563.8,617.4 566.5,619.8 567.7,623.2 565.5,626.5" fill="#909090" fill-opacity="0.8"/>
<polygon points="617.9,589.7 619.2,587.9 621.5,587.1 624.4,586.9 625.3,589.0 626.2,591.1 624.0,592.6 621.3,592.3 618.4,591.9" fill="#f2f2f2"/>
<polygon points="516.6,528.3 513.0,529.0 508.5,530.4 508.0,525.8 507.5,521.5 511.9,521.6 515.7,520.8 516.1,524.7" fill="#161616"/>
<polygon points="643.7,509.8 643.2,516.8 641.3,517.0 639.7,513.8 639.4,506.6 640.6,501.6 642.0,502.4 643.4,503.7" fill="#161616"/>
<polygon points="682.8,555.0 680.0,553.6 678.5,548.8 680.3,542.0 682.8,535.1 685.7,537.0 687.1,542.2 685.1,548.7" fill="#161616" fill-opacity="0.8"/>
<polygon points="745.1,576.2 745.4,570.7 750.8,569.5 754.3,572.1 756.6,575.3 755.4,579.2 751.9,582.4 746.4,581.5" fill="#161616"/>
<polygon points="602.4,644.0 601.6,648.7 599.2,651.0 596.4,650.1 596.5,645.5 596.2,642.1 598.1,639.8 600.6,640.5" fill="#161616" fill-opacity="0.85"/>
<polygon points="615.0,641.9 617.8,640.2 620.2,642.3 622.2,643.8 622.1,646.5 618.4,646.2 616.2,645.8 613.3,644.3" fill="#161616" fill-opacity="0.6"/>
<polygon points="645.1,646.1 644.8,648.6 642.9,652.2 637.7,651.4 635.2,648.2 635.5,644.7 639.1,642.0 644.5,642.4" fill="#161616" fill-opacity="0.9"/>
<polygon points="699.5,622.0 699.8,628.7 696.5,632.3 693.1,628.8 692.7,622.0 694.0,616.9 696.5,614.7 698.5,618.0" fill="#161616" fill-opacity="0.6"/>
<polygon points="655.7,562.4 657.9,563.1 658.4,565.4 657.1,567.1 655.0,568.3 653.1,566.8 652.9,564.7 653.1,562.1" fill="#161616"/>
<polygon points="476.3,545.7 474.4,546.0 472.6,544.9 471.9,542.5 474.0,541.2 476.0,541.2 478.1,542.1 477.6,544.4" fill="#161616"/>
<polygon points="509.9,699.6 510.2,697.1 512.7,697.6 514.4,698.5 515.0,700.4 514.0,702.2 511.9,703.4 509.8,702.0" fill="#161616"/>
<polygon points="738.9,609.0 740.8,610.9 743.2,612.9 739.8,614.2 736.6,614.4 733.5,613.4 731.3,611.0 735.3,609.6" fill="#161616" fill-opacity="0.7"/>
<polygon points="140.0,601.1 137.1,594.7 140.1,588.8 143.9,587.0 148.8,586.3 151.3,592.4 148.8,598.1 145.3,602.6" fill="#333"/>
<polygon points="143.3,617.3 139.1,611.9 140.4,604.5 147.3,601.7 154.9,600.6 156.1,608.5 159.2,614.1 154.7,619.0 148.8,618.6" fill="#333"/>
<polygon points="164.0,623.7 163.7,625.6 161.9,627.0 158.4,626.0 155.6,623.5 155.7,621.1 156.5,619.1 159.9,620.1 163.0,621.2" fill="#333"/>
<polygon points="154.6,615.2 154.6,616.8 153.8,618.3 152.0,618.8 150.4,617.7 149.6,616.0 150.6,614.4 152.1,613.6 153.6,614.1" fill="#f2f2f2" fill-opacity="0.9"/>
<polygon points="123.2,587.6 120.3,584.9 118.8,582.1 119.7,579.1 123.2,577.8 126.9,577.9 129.2,580.3 129.2,583.4 127.4,586.3" fill="#333" fill-opacity="0.9"/>
<polygon points="173.1,597.9 175.3,595.9 180.1,594.7 185.2,594.3 185.9,596.0 185.4,597.7 182.0,599.1 177.7,599.9 173.5,599.6" fill="#333" fill-opacity="0.9"/>
<polygon points="216.0,626.2 215.8,628.5 213.2,630.4 207.6,631.4 202.3,630.2 198.2,628.3 199.3,625.6 205.3,624.5 211.6,624.5" fill="#333"/>
<polygon points="223.4,602.2 225.3,607.5 228.2,614.2 223.4,619.9 217.6,615.7 211.5,615.6 211.5,608.8 214.8,604.9 218.4,602.4" fill="#333"/>
<polygon points="204.5,608.5 202.4,608.1 201.0,606.3 200.3,603.5 200.6,600.0 202.6,598.7 204.7,599.3 205.8,602.2 205.5,605.4" fill="#333"/>
<polygon points="275.2,616.8 272.4,621.5 269.6,625.1 266.1,624.8 266.1,617.0 267.5,609.2 270.8,603.1 274.0,605.1 275.8,609.5" fill="#333"/>
<polygon points="296.9,628.4 297.7,632.3 297.0,636.2 294.6,638.3 292.0,637.5 289.6,635.0 290.3,630.8 291.4,626.7 294.4,625.9" fill="#333"/>
<polygon points="265.2,642.3 268.7,642.8 268.8,645.1 263.0,647.9 257.6,649.5 252.4,650.2 252.6,647.9 254.7,645.3 260.4,643.2" fill="#333"/>
<polygon points="243.2,642.0 242.9,644.4 241.4,646.9 237.9,646.9 234.8,645.8 233.8,643.1 234.5,640.2 238.0,639.2 241.3,639.9" fill="#333"/>
<polygon points="286.4,702.1 285.8,705.0 284.7,707.0 283.3,706.5 282.5,703.6 282.8,700.5 283.4,697.6 284.8,697.1 286.0,698.7" fill="#333" fill-opacity="0.8"/>
<polygon points="278.1,656.9 278.0,660.9 276.9,662.9 275.6,664.2 274.7,660.8 274.1,657.0 274.9,653.0 276.3,652.5 277.7,652.7" fill="#333" fill-opacity="0.5"/>
<polygon points="94.3,583.7 94.8,582.6 96.2,582.8 97.4,583.6 98.0,584.8 98.0,586.2 96.9,586.5 95.6,586.0 94.7,585.0" fill="#555" fill-opacity="0.8"/>
<polygon points="67.3,595.0 68.2,596.2 67.7,597.4 66.3,597.8 64.7,597.5 63.6,596.4 63.4,595.2 64.3,594.3 65.9,594.6" fill="#555" fill-opacity="0.8"/>
<polygon points="76.9,636.5 76.9,634.9 78.1,634.9 79.1,635.0 79.8,636.2 80.1,637.8 79.3,638.8 78.2,639.0 77.0,638.0" fill="#555" fill-opacity="0.8"/>
<polygon points="56.2,644.0 55.0,643.2 53.8,642.3 53.6,640.7 54.6,640.0 55.7,640.1 56.9,640.7 57.5,642.1 57.3,643.6" fill="#555" fill-opacity="0.8"/>
<polygon points="93.6,632.5 92.7,631.3 91.7,630.0 92.0,628.7 93.1,628.2 94.5,628.6 95.3,630.0 95.7,631.5 94.9,632.4" fill="#555" fill-opacity="0.8"/>
<polygon points="36.0,649.0 36.4,648.1 37.3,647.7 38.6,647.8 39.4,649.1 39.8,650.5 39.0,651.4 37.7,651.3 36.5,650.3" fill="#555" fill-opacity="0.8"/>
<polygon points="44.5,676.0 43.4,675.1 43.3,673.8 44.2,673.0 45.7,673.4 47.2,674.1 47.8,675.4 46.9,676.2 45.8,676.9" fill="#555" fill-opacity="0.8"/>
<polygon points="161.4,698.2 160.3,698.4 159.1,697.9 158.2,696.9 158.0,695.5 158.9,694.9 159.9,694.4 161.1,695.5 161.6,696.8" fill="#555" fill-opacity="0.8"/>
<polygon points="125.4,627.2 125.0,625.8 125.7,624.9 126.7,624.6 127.6,625.5 128.1,626.7 128.1,628.0 127.3,628.7 126.0,628.6" fill="#555" fill-opacity="0.8"/>
<polygon points="116.1,550.5 116.9,549.8 118.0,549.8 119.3,550.6 119.4,552.0 119.2,553.2 118.2,553.8 116.9,553.2 116.1,551.8" fill="#555" fill-opacity="0.8"/>
<polygon points="111.8,471.6 110.7,471.9 109.5,471.7 108.3,470.7 108.2,469.2 108.9,468.4 109.9,467.8 110.9,468.9 111.5,470.1" fill="#555" fill-opacity="0.8"/>
<polygon points="123.5,500.8 123.0,499.4 123.6,498.5 124.6,497.9 125.9,498.6 126.9,499.9 126.8,501.2 126.0,501.9 124.8,501.5" fill="#555" fill-opacity="0.8"/>
<polygon points="102.1,521.2 100.9,521.6 99.8,521.5 98.7,520.7 97.9,519.5 98.5,518.5 99.6,518.3 100.9,518.7 101.8,519.8" fill="#555" fill-opacity="0.8"/>
<polygon points="73.4,558.6 74.2,557.8 75.4,558.1 76.2,559.3 76.8,560.7 76.1,561.6 75.1,561.8 74.0,561.4 73.6,560.1" fill="#555" fill-opacity="0.8"/>
<polygon points="308.2,680.8 308.1,679.8 308.2,678.6 309.8,678.2 311.3,678.8 312.2,679.7 311.9,680.7 311.1,681.7 309.5,681.3" fill="#555" fill-opacity="0.8"/>
<polygon points="299.6,651.8 298.4,650.7 298.0,649.6 298.5,648.6 299.6,648.0 301.0,648.9 302.1,649.8 302.1,651.1 301.0,651.7" fill="#555" fill-opacity="0.8"/>
<polygon points="248.0,689.4 248.6,688.6 249.7,688.2 251.1,688.9 251.8,690.0 252.1,691.2 250.9,691.7 249.6,691.6 248.2,690.7" fill="#555" fill-opacity="0.8"/>
<polygon points="197.8,679.8 198.0,678.5 199.2,678.0 200.6,678.5 201.7,679.5 202.1,680.9 201.2,681.6 200.1,681.9 198.6,681.2" fill="#555" fill-opacity="0.8"/>
<polygon points="130.6,658.4 131.6,659.5 131.6,660.9 131.2,662.1 130.0,662.0 128.7,661.3 128.3,659.8 128.4,658.4 129.5,658.3" fill="#555" fill-opacity="0.8"/>
<polygon points="146.4,444.9 146.5,438.6 148.0,432.9 152.0,431.8 155.7,433.3 158.8,438.1 156.7,444.0 154.4,449.6 150.3,447.3" fill="#6a6a6a" fill-opacity="0.6"/>
<polygon points="155.2,453.6 158.1,449.7 161.6,450.7 164.4,453.9 165.3,459.4 163.5,464.6 160.0,466.6 156.7,464.3 155.5,459.3" fill="#8a8a8a" fill-opacity="0.6"/>
<polygon points="148.6,465.1 152.0,465.4 155.2,467.4 154.3,471.1 153.2,474.4 149.7,474.7 146.3,473.9 144.3,470.6 146.1,467.4" fill="#bbb" fill-opacity="0.7"/>
<polygon points="152.3,423.4 154.3,421.4 156.9,421.5 159.4,422.6 160.5,425.3 159.0,427.9 156.4,428.7 153.5,428.6 152.3,426.1" fill="#999" fill-opacity="0.5"/>
<polygon points="158.6,546.5 156.9,547.0 155.3,546.4 154.1,544.9 154.8,543.1 156.1,541.8 157.9,542.3 159.4,543.2 159.1,545.0" fill="#f2f2f2"/>
<polygon points="164.2,546.0 162.7,544.9 162.3,543.1 163.4,541.7 164.9,541.2 166.5,541.6 167.5,543.0 166.9,544.5 165.9,545.7" fill="#f2f2f2"/>
<polyline points="566.0,396.0 580.0,392.0 592.0,397.0 604.0,392.0 618.0,396.0" fill="none" stroke="#555" stroke-width="1.4" stroke-opacity="0.8"/>
<polyline points="580.0,380.0 586.0,392.0 582.0,404.0 590.0,414.0" fill="none" stroke="#555" stroke-width="1.4" stroke-opacity="0.8"/>
<polyline points="600.0,380.0 604.0,392.0 612.0,402.0 606.0,414.0 614.0,424.0" fill="none" stroke="#555" stroke-width="1.4" stroke-opacity="0.8"/>
<polyline points="570.0,404.0 584.0,408.0 596.0,414.0 608.0,418.0 622.0,418.0" fill="none" stroke="#555" stroke-width="1.4" stroke-opacity="0.8"/>
<polyline points="590.0,432.0 598.0,440.0 594.0,447.0" fill="none" stroke="#555" stroke-width="1.4" stroke-opacity="0.8"/>
<polyline points="574.0,368.0 580.0,376.0" fill="none" stroke="#555" stroke-width="1.2" stroke-opacity="0.8"/>
<polyline points="574.0,548.0 584.0,552.0 596.0,550.0" fill="none" stroke="#555" stroke-width="1.4" stroke-opacity="0.8"/>
<polyline points="578.0,562.0 588.0,566.0 600.0,564.0" fill="none" stroke="#555" stroke-width="1.4" stroke-opacity="0.8"/>
<polyline points="584.0,540.0 586.0,556.0 582.0,572.0 590.0,586.0 588.0,598.0" fill="none" stroke="#555" stroke-width="1.4" stroke-opacity="0.8"/>
<polyline points="576.0,578.0 590.0,580.0 604.0,584.0" fill="none" stroke="#555" stroke-width="1.4" stroke-opacity="0.8"/>
<polyline points="596.0,560.0 600.0,574.0 606.0,586.0" fill="none" stroke="#555" stroke-width="1.4" stroke-opacity="0.8"/>
<polyline points="420.0,636.0 436.0,640.0 452.0,636.0 470.0,644.0 484.0,642.0" fill="none" stroke="#555" stroke-width="1.4" stroke-opacity="0.8"/>
<polyline points="428.0,628.0 432.0,646.0 426.0,660.0" fill="none" stroke="#555" stroke-width="1.4" stroke-opacity="0.8"/>
<polyline points="446.0,628.0 450.0,648.0 444.0,668.0" fill="none" stroke="#555" stroke-width="1.4" stroke-opacity="0.8"/>
<polyline points="466.0,640.0 468.0,656.0 478.0,666.0" fill="none" stroke="#555" stroke-width="1.4" stroke-opacity="0.8"/>
<polyline points="414.0,650.0 430.0,654.0 448.0,656.0 466.0,660.0 484.0,656.0" fill="none" stroke="#555" stroke-width="1.4" stroke-opacity="0.8"/>
<polyline points="308.0,488.0 322.0,486.0 334.0,480.0" fill="none" stroke="#555" stroke-width="1.4" stroke-opacity="0.8"/>
<polyline points="318.0,482.0 322.0,496.0" fill="none" stroke="#555" stroke-width="1.2" stroke-opacity="0.8"/>
<polyline points="548.0,602.0 556.0,610.0 562.0,604.0" fill="none" stroke="#555" stroke-width="1.2" stroke-opacity="0.8"/>
<ellipse cx="218.2" cy="395.2" rx="1.8" ry="1.4" fill="#2a2a2a" fill-opacity="0.38" transform="rotate(3 218.2 395.2)"/>
<ellipse cx="473.4" cy="154.8" rx="1.8" ry="1.3" fill="#2a2a2a" fill-opacity="0.53" transform="rotate(38 473.4 154.8)"/>
<circle cx="213.2" cy="127.4" r="1.1" fill="#e8e8e8" fill-opacity="0.41"/>
<ellipse cx="660.5" cy="585.7" rx="1.8" ry="1.7" fill="#2a2a2a" fill-opacity="0.52" transform="rotate(109 660.5 585.7)"/>
<ellipse cx="346.3" cy="570.2" rx="2.3" ry="1.7" fill="#2a2a2a" fill-opacity="0.39" transform="rotate(34 346.3 570.2)"/>
<ellipse cx="427.8" cy="199.9" rx="2.1" ry="1.7" fill="#2a2a2a" fill-opacity="0.54" transform="rotate(98 427.8 199.9)"/>
<ellipse cx="492.4" cy="388.3" rx="1.3" ry="1.1" fill="#2a2a2a" fill-opacity="0.76" transform="rotate(7 492.4 388.3)"/>
<ellipse cx="702.6" cy="415.1" rx="1.1" ry="1.7" fill="#2a2a2a" fill-opacity="0.80" transform="rotate(22 702.6 415.1)"/>
<circle cx="304.8" cy="69.4" r="0.8" fill="#e8e8e8" fill-opacity="0.57"/>
<ellipse cx="362.8" cy="105.1" rx="2.1" ry="1.2" fill="#2a2a2a" fill-opacity="0.61" transform="rotate(141 362.8 105.1)"/>
<ellipse cx="276.7" cy="76.5" rx="1.0" ry="1.0" fill="#2a2a2a" fill-opacity="0.53" transform="rotate(156 276.7 76.5)"/>
<circle cx="317.9" cy="118.3" r="1.1" fill="#e8e8e8" fill-opacity="0.75"/>
<ellipse cx="339.1" cy="615.2" rx="1.1" ry="1.8" fill="#2a2a2a" fill-opacity="0.72" transform="rotate(69 339.1 615.2)"/>
<ellipse cx="375.9" cy="515.3" rx="1.4" ry="1.8" fill="#2a2a2a" fill-opacity="0.58" transform="rotate(140 375.9 515.3)"/>
<ellipse cx="331.2" cy="425.8" rx="1.9" ry="1.1" fill="#2a2a2a" fill-opacity="0.51" transform="rotate(90 331.2 425.8)"/>
<ellipse cx="520.8" cy="214.2" rx="1.8" ry="1.8" fill="#2a2a2a" fill-opacity="0.36" transform="rotate(94 520.8 214.2)"/>
<ellipse cx="228.9" cy="335.2" rx="1.4" ry="1.2" fill="#2a2a2a" fill-opacity="0.49" transform="rotate(94 228.9 335.2)"/>
<ellipse cx="432.0" cy="469.8" rx="1.5" ry="1.5" fill="#2a2a2a" fill-opacity="0.64" transform="rotate(24 432.0 469.8)"/>
<ellipse cx="107.1" cy="243.6" rx="2.2" ry="1.2" fill="#2a2a2a" fill-opacity="0.73" transform="rotate(43 107.1 243.6)"/>
<ellipse cx="201.9" cy="411.6" rx="2.1" ry="0.8" fill="#2a2a2a" fill-opacity="0.78" transform="rotate(80 201.9 411.6)"/>
<ellipse cx="682.3" cy="595.8" rx="1.4" ry="1.6" fill="#2a2a2a" fill-opacity="0.64" transform="rotate(158 682.3 595.8)"/>
<ellipse cx="305.8" cy="112.4" rx="2.1" ry="1.1" fill="#2a2a2a" fill-opacity="0.51" transform="rotate(106 305.8 112.4)"/>
<ellipse cx="261.0" cy="411.6" rx="1.6" ry="1.0" fill="#2a2a2a" fill-opacity="0.56" transform="rotate(159 261.0 411.6)"/>
<ellipse cx="706.7" cy="476.2" rx="1.4" ry="1.1" fill="#2a2a2a" fill-opacity="0.45" transform="rotate(17 706.7 476.2)"/>
<ellipse cx="121.9" cy="190.8" rx="2.1" ry="1.3" fill="#2a2a2a" fill-opacity="0.44" transform="rotate(110 121.9 190.8)"/>
<ellipse cx="494.8" cy="33.0" rx="1.2" ry="1.1" fill="#2a2a2a" fill-opacity="0.65" transform="rotate(134 494.8 33.0)"/>
<circle cx="462.2" cy="60.3" r="0.9" fill="#e8e8e8" fill-opacity="0.45"/>
<circle cx="204.2" cy="107.4" r="0.9" fill="#e8e8e8" fill-opacity="0.50"/>
<ellipse cx="421.8" cy="413.4" rx="2.1" ry="1.0" fill="#2a2a2a" fill-opacity="0.63" transform="rotate(133 421.8 413.4)"/>
<ellipse cx="369.2" cy="346.5" rx="1.0" ry="0.9" fill="#2a2a2a" fill-opacity="0.41" transform="rotate(31 369.2 346.5)"/>
<ellipse cx="444.6" cy="358.2" rx="1.1" ry="1.2" fill="#2a2a2a" fill-opacity="0.53" transform="rotate(77 444.6 358.2)"/>
<ellipse cx="318.4" cy="154.3" rx="1.2" ry="1.4" fill="#2a2a2a" fill-opacity="0.67" transform="rotate(97 318.4 154.3)"/>
<ellipse cx="673.0" cy="410.5" rx="1.6" ry="1.5" fill="#2a2a2a" fill-opacity="0.59" transform="rotate(162 673.0 410.5)"/>
<ellipse cx="677.7" cy="448.8" rx="1.5" ry="1.3" fill="#2a2a2a" fill-opacity="0.67" transform="rotate(107 677.7 448.8)"/>
<ellipse cx="38.6" cy="173.1" rx="1.8" ry="1.6" fill="#2a2a2a" fill-opacity="0.45" transform="rotate(33 38.6 173.1)"/>
<circle cx="402.7" cy="108.0" r="1.3" fill="#e8e8e8" fill-opacity="0.75"/>
<ellipse cx="670.7" cy="479.3" rx="1.8" ry="0.9" fill="#2a2a2a" fill-opacity="0.61" transform="rotate(1 670.7 479.3)"/>
<ellipse cx="410.4" cy="184.9" rx="1.7" ry="1.4" fill="#2a2a2a" fill-opacity="0.65" transform="rotate(96 410.4 184.9)"/>
<circle cx="170.2" cy="40.0" r="0.9" fill="#e8e8e8" fill-opacity="0.74"/>
<circle cx="573.6" cy="594.3" r="1.3" fill="#e8e8e8" fill-opacity="0.72"/>
<ellipse cx="441.2" cy="511.7" rx="2.0" ry="1.7" fill="#2a2a2a" fill-opacity="0.38" transform="rotate(83 441.2 511.7)"/>
<ellipse cx="551.1" cy="333.7" rx="2.3" ry="1.1" fill="#2a2a2a" fill-opacity="0.62" transform="rotate(89 551.1 333.7)"/>
<ellipse cx="478.2" cy="683.0" rx="1.3" ry="1.7" fill="#2a2a2a" fill-opacity="0.73" transform="rotate(41 478.2 683.0)"/>
<ellipse cx="362.9" cy="411.7" rx="2.3" ry="1.5" fill="#2a2a2a" fill-opacity="0.42" transform="rotate(102 362.9 411.7)"/>
<ellipse cx="385.5" cy="514.3" rx="1.4" ry="1.0" fill="#2a2a2a" fill-opacity="0.61" transform="rotate(80 385.5 514.3)"/>
<ellipse cx="463.0" cy="555.6" rx="2.2" ry="1.4" fill="#2a2a2a" fill-opacity="0.61" transform="rotate(68 463.0 555.6)"/>
<circle cx="218.9" cy="353.1" r="1.1" fill="#e8e8e8" fill-opacity="0.68"/>
<ellipse cx="497.7" cy="639.0" rx="1.0" ry="1.8" fill="#2a2a2a" fill-opacity="0.38" transform="rotate(102 497.7 639.0)"/>
<ellipse cx="663.0" cy="625.4" rx="2.3" ry="1.7" fill="#2a2a2a" fill-opacity="0.64" transform="rotate(172 663.0 625.4)"/>
<ellipse cx="80.5" cy="172.2" rx="2.2" ry="1.6" fill="#2a2a2a" fill-opacity="0.41" transform="rotate(159 80.5 172.2)"/>
<circle cx="599.1" cy="609.6" r="1.0" fill="#e8e8e8" fill-opacity="0.75"/>
<ellipse cx="279.7" cy="312.7" rx="1.1" ry="0.9" fill="#2a2a2a" fill-opacity="0.73" transform="rotate(74 279.7 312.7)"/>
<ellipse cx="48.0" cy="250.1" rx="1.1" ry="1.4" fill="#2a2a2a" fill-opacity="0.68" transform="rotate(125 48.0 250.1)"/>
<ellipse cx="343.0" cy="395.3" rx="1.4" ry="1.5" fill="#2a2a2a" fill-opacity="0.40" transform="rotate(135 343.0 395.3)"/>
<ellipse cx="654.3" cy="540.5" rx="1.9" ry="1.5" fill="#2a2a2a" fill-opacity="0.71" transform="rotate(67 654.3 540.5)"/>
<ellipse cx="300.2" cy="410.0" rx="1.9" ry="1.3" fill="#2a2a2a" fill-opacity="0.38" transform="rotate(75 300.2 410.0)"/>
<ellipse cx="577.7" cy="410.3" rx="1.9" ry="1.4" fill="#2a2a2a" fill-opacity="0.43" transform="rotate(167 577.7 410.3)"/>
<ellipse cx="394.7" cy="97.8" rx="2.3" ry="1.4" fill="#2a2a2a" fill-opacity="0.64" transform="rotate(107 394.7 97.8)"/>
<ellipse cx="476.8" cy="465.6" rx="1.4" ry="1.0" fill="#2a2a2a" fill-opacity="0.38" transform="rotate(46 476.8 465.6)"/>
<ellipse cx="639.7" cy="394.4" rx="1.5" ry="1.1" fill="#2a2a2a" fill-opacity="0.52" transform="rotate(34 639.7 394.4)"/>
<ellipse cx="313.0" cy="251.0" rx="1.8" ry="1.6" fill="#2a2a2a" fill-opacity="0.51" transform="rotate(28 313.0 251.0)"/>
<circle cx="580.1" cy="408.9" r="0.9" fill="#e8e8e8" fill-opacity="0.68"/>
<ellipse cx="486.7" cy="481.0" rx="2.4" ry="0.9" fill="#2a2a2a" fill-opacity="0.62" transform="rotate(101 486.7 481.0)"/>
<ellipse cx="675.3" cy="395.5" rx="1.3" ry="1.7" fill="#2a2a2a" fill-opacity="0.52" transform="rotate(75 675.3 395.5)"/>
<ellipse cx="336.6" cy="400.9" rx="1.9" ry="1.8" fill="#2a2a2a" fill-opacity="0.66" transform="rotate(76 336.6 400.9)"/>
<ellipse cx="754.9" cy="479.3" rx="1.3" ry="1.4" fill="#2a2a2a" fill-opacity="0.40" transform="rotate(169 754.9 479.3)"/>
<ellipse cx="214.8" cy="142.1" rx="1.3" ry="1.6" fill="#2a2a2a" fill-opacity="0.45" transform="rotate(128 214.8 142.1)"/>
<ellipse cx="115.0" cy="217.2" rx="1.2" ry="1.3" fill="#2a2a2a" fill-opacity="0.39" transform="rotate(12 115.0 217.2)"/>
<ellipse cx="436.9" cy="364.0" rx="1.5" ry="1.1" fill="#2a2a2a" fill-opacity="0.50" transform="rotate(177 436.9 364.0)"/>
<ellipse cx="514.5" cy="656.2" rx="2.0" ry="1.1" fill="#2a2a2a" fill-opacity="0.71" transform="rotate(16 514.5 656.2)"/>
<ellipse cx="641.6" cy="354.8" rx="1.1" ry="0.9" fill="#2a2a2a" fill-opacity="0.44" transform="rotate(41 641.6 354.8)"/>
<ellipse cx="343.5" cy="346.8" rx="2.2" ry="1.0" fill="#2a2a2a" fill-opacity="0.57" transform="rotate(5 343.5 346.8)"/>
<ellipse cx="403.0" cy="540.3" rx="1.3" ry="1.7" fill="#2a2a2a" fill-opacity="0.67" transform="rotate(93 403.0 540.3)"/>
<circle cx="319.0" cy="298.0" r="1.4" fill="#e8e8e8" fill-opacity="0.50"/>
<ellipse cx="459.6" cy="132.5" rx="1.8" ry="1.3" fill="#2a2a2a" fill-opacity="0.64" transform="rotate(35 459.6 132.5)"/>
<ellipse cx="113.8" cy="138.7" rx="1.1" ry="0.8" fill="#2a2a2a" fill-opacity="0.55" transform="rotate(104 113.8 138.7)"/>
<ellipse cx="219.2" cy="50.7" rx="2.3" ry="1.7" fill="#2a2a2a" fill-opacity="0.46" transform="rotate(99 219.2 50.7)"/>
<ellipse cx="411.3" cy="136.4" rx="1.5" ry="0.9" fill="#2a2a2a" fill-opacity="0.37" transform="rotate(74 411.3 136.4)"/>
<ellipse cx="403.8" cy="660.3" rx="1.3" ry="1.1" fill="#2a2a2a" fill-opacity="0.72" transform="rotate(161 403.8 660.3)"/>
<ellipse cx="417.2" cy="153.0" rx="1.5" ry="1.7" fill="#2a2a2a" fill-opacity="0.69" transform="rotate(87 417.2 153.0)"/>
<circle cx="679.7" cy="649.7" r="0.8" fill="#e8e8e8" fill-opacity="0.52"/>
<ellipse cx="519.3" cy="669.5" rx="1.4" ry="1.6" fill="#2a2a2a" fill-opacity="0.40" transform="rotate(99 519.3 669.5)"/>
<ellipse cx="470.6" cy="389.9" rx="1.6" ry="1.6" fill="#2a2a2a" fill-opacity="0.74" transform="rotate(98 470.6 389.9)"/>
<circle cx="705.9" cy="401.4" r="1.1" fill="#e8e8e8" fill-opacity="0.57"/>
<ellipse cx="416.2" cy="207.8" rx="2.0" ry="1.4" fill="#2a2a2a" fill-opacity="0.67" transform="rotate(99 416.2 207.8)"/>
<ellipse cx="588.6" cy="474.5" rx="1.8" ry="1.6" fill="#2a2a2a" fill-opacity="0.38" transform="rotate(156 588.6 474.5)"/>
<ellipse cx="755.9" cy="523.8" rx="1.5" ry="0.9" fill="#2a2a2a" fill-opacity="0.53" transform="rotate(26 755.9 523.8)"/>
<ellipse cx="300.2" cy="236.3" rx="2.2" ry="1.0" fill="#2a2a2a" fill-opacity="0.66" transform="rotate(39 300.2 236.3)"/>
<circle cx="258.6" cy="166.4" r="1.2" fill="#e8e8e8" fill-opacity="0.60"/>
<ellipse cx="744.4" cy="557.4" rx="1.9" ry="0.8" fill="#2a2a2a" fill-opacity="0.71" transform="rotate(153 744.4 557.4)"/>
<ellipse cx="94.0" cy="341.3" rx="2.2" ry="1.4" fill="#2a2a2a" fill-opacity="0.64" transform="rotate(171 94.0 341.3)"/>
<ellipse cx="516.1" cy="327.9" rx="2.2" ry="1.4" fill="#2a2a2a" fill-opacity="0.72" transform="rotate(52 516.1 327.9)"/>
<ellipse cx="119.4" cy="29.2" rx="1.9" ry="1.1" fill="#2a2a2a" fill-opacity="0.44" transform="rotate(18 119.4 29.2)"/>
<ellipse cx="777.9" cy="492.1" rx="2.1" ry="0.9" fill="#2a2a2a" fill-opacity="0.58" transform="rotate(63 777.9 492.1)"/>
<ellipse cx="297.5" cy="317.8" rx="1.3" ry="1.0" fill="#2a2a2a" fill-opacity="0.77" transform="rotate(55 297.5 317.8)"/>
<ellipse cx="523.5" cy="659.2" rx="1.6" ry="1.7" fill="#2a2a2a" fill-opacity="0.76" transform="rotate(104 523.5 659.2)"/>
<ellipse cx="419.1" cy="551.5" rx="2.4" ry="1.7" fill="#2a2a2a" fill-opacity="0.48" transform="rotate(4 419.1 551.5)"/>
<ellipse cx="174.6" cy="89.4" rx="1.4" ry="1.3" fill="#2a2a2a" fill-opacity="0.64" transform="rotate(10 174.6 89.4)"/>
<ellipse cx="183.0" cy="165.4" rx="1.1" ry="1.3" fill="#2a2a2a" fill-opacity="0.44" transform="rotate(73 183.0 165.4)"/>
<circle cx="140.7" cy="326.9" r="1.2" fill="#e8e8e8" fill-opacity="0.48"/>
<ellipse cx="421.6" cy="576.4" rx="1.5" ry="1.6" fill="#2a2a2a" fill-opacity="0.64" transform="rotate(41 421.6 576.4)"/>
<ellipse cx="259.3" cy="44.1" rx="1.5" ry="1.6" fill="#2a2a2a" fill-opacity="0.69" transform="rotate(133 259.3 44.1)"/>
<ellipse cx="32.2" cy="113.7" rx="1.8" ry="1.0" fill="#2a2a2a" fill-opacity="0.37" transform="rotate(52 32.2 113.7)"/>
<ellipse cx="320.1" cy="400.9" rx="1.3" ry="1.1" fill="#2a2a2a" fill-opacity="0.76" transform="rotate(13 320.1 400.9)"/>
<ellipse cx="516.4" cy="577.3" rx="1.4" ry="1.5" fill="#2a2a2a" fill-opacity="0.57" transform="rotate(66 516.4 577.3)"/>
<ellipse cx="301.1" cy="44.0" rx="2.4" ry="1.0" fill="#2a2a2a" fill-opacity="0.69" transform="rotate(144 301.1 44.0)"/>
<ellipse cx="225.9" cy="116.5" rx="2.1" ry="1.3" fill="#2a2a2a" fill-opacity="0.72" transform="rotate(141 225.9 116.5)"/>
<ellipse cx="133.1" cy="35.3" rx="1.7" ry="0.9" fill="#2a2a2a" fill-opacity="0.72" transform="rotate(117 133.1 35.3)"/>
<circle cx="405.5" cy="477.9" r="1.5" fill="#e8e8e8" fill-opacity="0.64"/>
<ellipse cx="362.2" cy="377.6" rx="1.3" ry="1.5" fill="#2a2a2a" fill-opacity="0.80" transform="rotate(140 362.2 377.6)"/>
<ellipse cx="386.4" cy="213.9" rx="1.4" ry="1.3" fill="#2a2a2a" fill-opacity="0.61" transform="rotate(35 386.4 213.9)"/>
<circle cx="450.0" cy="304.9" r="1.5" fill="#e8e8e8" fill-opacity="0.77"/>
<ellipse cx="492.8" cy="398.9" rx="1.4" ry="1.5" fill="#2a2a2a" fill-opacity="0.76" transform="rotate(26 492.8 398.9)"/>
<ellipse cx="379.1" cy="75.7" rx="1.7" ry="1.6" fill="#2a2a2a" fill-opacity="0.72" transform="rotate(114 379.1 75.7)"/>
<circle cx="171.8" cy="285.4" r="1.1" fill="#e8e8e8" fill-opacity="0.51"/>
<ellipse cx="283.0" cy="291.7" rx="1.2" ry="1.1" fill="#2a2a2a" fill-opacity="0.79" transform="rotate(20 283.0 291.7)"/>
<ellipse cx="625.8" cy="500.2" rx="1.9" ry="0.9" fill="#2a2a2a" fill-opacity="0.73" transform="rotate(1 625.8 500.2)"/>
<circle cx="588.7" cy="318.1" r="1.2" fill="#e8e8e8" fill-opacity="0.52"/>
<ellipse cx="480.6" cy="143.1" rx="1.2" ry="0.9" fill="#2a2a2a" fill-opacity="0.67" transform="rotate(176 480.6 143.1)"/>
<circle cx="167.7" cy="153.3" r="1.5" fill="#e8e8e8" fill-opacity="0.42"/>
<ellipse cx="336.0" cy="97.0" rx="2.4" ry="1.1" fill="#2a2a2a" fill-opacity="0.41" transform="rotate(37 336.0 97.0)"/>
<circle cx="264.7" cy="285.6" r="1.3" fill="#e8e8e8" fill-opacity="0.77"/>
<ellipse cx="140.3" cy="350.3" rx="1.8" ry="1.7" fill="#2a2a2a" fill-opacity="0.40" transform="rotate(80 140.3 350.3)"/>
<ellipse cx="409.7" cy="528.3" rx="2.2" ry="1.2" fill="#2a2a2a" fill-opacity="0.53" transform="rotate(137 409.7 528.3)"/>
<ellipse cx="463.1" cy="325.6" rx="2.2" ry="1.0" fill="#2a2a2a" fill-opacity="0.62" transform="rotate(45 463.1 325.6)"/>
<ellipse cx="525.4" cy="145.3" rx="1.2" ry="0.9" fill="#2a2a2a" fill-opacity="0.53" transform="rotate(145 525.4 145.3)"/>
<ellipse cx="583.3" cy="382.2" rx="1.1" ry="1.3" fill="#2a2a2a" fill-opacity="0.55" transform="rotate(37 583.3 382.2)"/>
<ellipse cx="505.8" cy="173.0" rx="1.8" ry="1.4" fill="#2a2a2a" fill-opacity="0.62" transform="rotate(179 505.8 173.0)"/>
<circle cx="514.4" cy="692.7" r="1.5" fill="#e8e8e8" fill-opacity="0.73"/>
<ellipse cx="244.1" cy="108.0" rx="2.0" ry="1.1" fill="#2a2a2a" fill-opacity="0.64" transform="rotate(72 244.1 108.0)"/>
<ellipse cx="378.7" cy="206.0" rx="1.5" ry="1.6" fill="#2a2a2a" fill-opacity="0.43" transform="rotate(158 378.7 206.0)"/>
<ellipse cx="455.2" cy="325.1" rx="1.1" ry="1.2" fill="#2a2a2a" fill-opacity="0.73" transform="rotate(74 455.2 325.1)"/>
<ellipse cx="323.2" cy="170.4" rx="2.2" ry="1.2" fill="#2a2a2a" fill-opacity="0.74" transform="rotate(143 323.2 170.4)"/>
<ellipse cx="319.0" cy="229.0" rx="1.6" ry="1.2" fill="#2a2a2a" fill-opacity="0.64" transform="rotate(26 319.0 229.0)"/>
<ellipse cx="500.9" cy="123.7" rx="1.5" ry="1.4" fill="#2a2a2a" fill-opacity="0.41" transform="rotate(20 500.9 123.7)"/>
<ellipse cx="194.6" cy="320.8" rx="1.0" ry="1.5" fill="#2a2a2a" fill-opacity="0.49" transform="rotate(113 194.6 320.8)"/>
<circle cx="625.7" cy="589.0" r="1.5" fill="#e8e8e8" fill-opacity="0.58"/>
<ellipse cx="411.9" cy="631.2" rx="1.3" ry="1.6" fill="#2a2a2a" fill-opacity="0.62" transform="rotate(21 411.9 631.2)"/>
<ellipse cx="375.5" cy="566.9" rx="1.7" ry="1.8" fill="#2a2a2a" fill-opacity="0.56" transform="rotate(35 375.5 566.9)"/>
<ellipse cx="341.2" cy="373.0" rx="1.9" ry="1.5" fill="#2a2a2a" fill-opacity="0.55" transform="rotate(24 341.2 373.0)"/>
<circle cx="546.6" cy="532.5" r="0.9" fill="#e8e8e8" fill-opacity="0.75"/>
<ellipse cx="768.7" cy="454.6" rx="1.9" ry="1.4" fill="#2a2a2a" fill-opacity="0.75" transform="rotate(57 768.7 454.6)"/>
<ellipse cx="343.8" cy="84.3" rx="1.0" ry="1.7" fill="#2a2a2a" fill-opacity="0.59" transform="rotate(146 343.8 84.3)"/>
<circle cx="693.8" cy="586.2" r="1.1" fill="#e8e8e8" fill-opacity="0.54"/>
<ellipse cx="208.9" cy="414.8" rx="1.8" ry="1.4" fill="#2a2a2a" fill-opacity="0.51" transform="rotate(132 208.9 414.8)"/>
<circle cx="313.6" cy="548.3" r="1.5" fill="#e8e8e8" fill-opacity="0.70"/>
<ellipse cx="190.1" cy="64.8" rx="1.4" ry="1.0" fill="#2a2a2a" fill-opacity="0.74" transform="rotate(55 190.1 64.8)"/>
<ellipse cx="173.9" cy="94.6" rx="2.3" ry="1.3" fill="#2a2a2a" fill-opacity="0.73" transform="rotate(80 173.9 94.6)"/>
<ellipse cx="176.2" cy="49.7" rx="1.5" ry="1.7" fill="#2a2a2a" fill-opacity="0.72" transform="rotate(14 176.2 49.7)"/>
<ellipse cx="217.2" cy="274.2" rx="1.4" ry="1.1" fill="#2a2a2a" fill-opacity="0.37" transform="rotate(87 217.2 274.2)"/>
<ellipse cx="271.9" cy="141.9" rx="1.7" ry="1.0" fill="#2a2a2a" fill-opacity="0.71" transform="rotate(93 271.9 141.9)"/>
<ellipse cx="521.2" cy="143.9" rx="1.6" ry="1.3" fill="#2a2a2a" fill-opacity="0.62" transform="rotate(160 521.2 143.9)"/>
<ellipse cx="270.3" cy="279.3" rx="1.8" ry="1.3" fill="#2a2a2a" fill-opacity="0.36" transform="rotate(45 270.3 279.3)"/>
<ellipse cx="418.2" cy="145.9" rx="1.5" ry="1.5" fill="#2a2a2a" fill-opacity="0.61" transform="rotate(27 418.2 145.9)"/>
<ellipse cx="308.8" cy="124.0" rx="1.9" ry="1.0" fill="#2a2a2a" fill-opacity="0.76" transform="rotate(95 308.8 124.0)"/>
<circle cx="426.0" cy="421.5" r="1.0" fill="#e8e8e8" fill-opacity="0.44"/>
<ellipse cx="645.1" cy="400.9" rx="2.2" ry="1.7" fill="#2a2a2a" fill-opacity="0.59" transform="rotate(105 645.1 400.9)"/>
<ellipse cx="706.1" cy="534.2" rx="1.0" ry="1.5" fill="#2a2a2a" fill-opacity="0.68" transform="rotate(89 706.1 534.2)"/>
<ellipse cx="369.0" cy="276.4" rx="1.4" ry="1.0" fill="#2a2a2a" fill-opacity="0.73" transform="rotate(28 369.0 276.4)"/>
<circle cx="288.4" cy="134.5" r="1.2" fill="#e8e8e8" fill-opacity="0.62"/>
<ellipse cx="403.8" cy="643.3" rx="1.5" ry="1.5" fill="#2a2a2a" fill-opacity="0.62" transform="rotate(179 403.8 643.3)"/>
<ellipse cx="188.5" cy="368.5" rx="1.1" ry="1.3" fill="#2a2a2a" fill-opacity="0.77" transform="rotate(142 188.5 368.5)"/>
<ellipse cx="444.7" cy="295.0" rx="1.4" ry="1.1" fill="#2a2a2a" fill-opacity="0.77" transform="rotate(30 444.7 295.0)"/>
<ellipse cx="196.8" cy="99.1" rx="1.2" ry="1.2" fill="#2a2a2a" fill-opacity="0.66" transform="rotate(67 196.8 99.1)"/>
<ellipse cx="490.2" cy="372.3" rx="1.3" ry="1.8" fill="#2a2a2a" fill-opacity="0.71" transform="rotate(87 490.2 372.3)"/>
<ellipse cx="598.1" cy="535.9" rx="1.6" ry="1.8" fill="#2a2a2a" fill-opacity="0.50" transform="rotate(36 598.1 535.9)"/>
<ellipse cx="243.9" cy="371.0" rx="2.2" ry="1.5" fill="#2a2a2a" fill-opacity="0.58" transform="rotate(175 243.9 371.0)"/>
<ellipse cx="492.5" cy="691.0" rx="1.4" ry="1.1" fill="#2a2a2a" fill-opacity="0.76" transform="rotate(39 492.5 691.0)"/>
<ellipse cx="62.0" cy="139.9" rx="1.3" ry="1.6" fill="#2a2a2a" fill-opacity="0.58" transform="rotate(53 62.0 139.9)"/>
<ellipse cx="715.8" cy="520.1" rx="1.1" ry="1.4" fill="#2a2a2a" fill-opacity="0.69" transform="rotate(91 715.8 520.1)"/>
<circle cx="189.4" cy="132.1" r="1.4" fill="#e8e8e8" fill-opacity="0.59"/>
<ellipse cx="467.9" cy="480.0" rx="1.2" ry="0.9" fill="#2a2a2a" fill-opacity="0.63" transform="rotate(174 467.9 480.0)"/>
<ellipse cx="136.7" cy="28.8" rx="2.1" ry="1.2" fill="#2a2a2a" fill-opacity="0.56" transform="rotate(169 136.7 28.8)"/>
<ellipse cx="522.7" cy="203.6" rx="1.0" ry="1.1" fill="#2a2a2a" fill-opacity="0.66" transform="rotate(43 522.7 203.6)"/>
<ellipse cx="29.6" cy="253.5" rx="2.2" ry="1.2" fill="#2a2a2a" fill-opacity="0.37" transform="rotate(54 29.6 253.5)"/>
<ellipse cx="341.0" cy="573.3" rx="1.9" ry="1.1" fill="#2a2a2a" fill-opacity="0.45" transform="rotate(115 341.0 573.3)"/>
<ellipse cx="217.1" cy="27.9" rx="1.2" ry="1.2" fill="#2a2a2a" fill-opacity="0.53" transform="rotate(146 217.1 27.9)"/>
<ellipse cx="222.9" cy="89.9" rx="1.8" ry="1.0" fill="#2a2a2a" fill-opacity="0.55" transform="rotate(130 222.9 89.9)"/>
<ellipse cx="514.7" cy="475.7" rx="1.7" ry="1.2" fill="#2a2a2a" fill-opacity="0.49" transform="rotate(16 514.7 475.7)"/>
<ellipse cx="169.0" cy="332.3" rx="1.4" ry="1.7" fill="#2a2a2a" fill-opacity="0.77" transform="rotate(37 169.0 332.3)"/>
<circle cx="381.9" cy="110.0" r="0.9" fill="#e8e8e8" fill-opacity="0.55"/>
<ellipse cx="431.6" cy="351.1" rx="2.3" ry="1.2" fill="#2a2a2a" fill-opacity="0.36" transform="rotate(121 431.6 351.1)"/>
<ellipse cx="438.7" cy="351.4" rx="1.5" ry="1.1" fill="#2a2a2a" fill-opacity="0.72" transform="rotate(125 438.7 351.4)"/>
<ellipse cx="269.2" cy="232.0" rx="1.9" ry="0.9" fill="#2a2a2a" fill-opacity="0.78" transform="rotate(11 269.2 232.0)"/>
<ellipse cx="217.8" cy="132.1" rx="2.0" ry="1.5" fill="#2a2a2a" fill-opacity="0.41" transform="rotate(42 217.8 132.1)"/>
<ellipse cx="442.2" cy="680.2" rx="1.1" ry="1.5" fill="#2a2a2a" fill-opacity="0.77" transform="rotate(107 442.2 680.2)"/>
<ellipse cx="568.1" cy="250.9" rx="1.6" ry="1.1" fill="#2a2a2a" fill-opacity="0.77" transform="rotate(82 568.1 250.9)"/>
<ellipse cx="234.6" cy="346.7" rx="1.5" ry="1.5" fill="#2a2a2a" fill-opacity="0.68" transform="rotate(107 234.6 346.7)"/>
<ellipse cx="413.1" cy="162.3" rx="1.1" ry="1.0" fill="#2a2a2a" fill-opacity="0.61" transform="rotate(156 413.1 162.3)"/>
<ellipse cx="352.1" cy="286.9" rx="1.9" ry="1.7" fill="#2a2a2a" fill-opacity="0.55" transform="rotate(110 352.1 286.9)"/>
<ellipse cx="745.1" cy="409.2" rx="1.6" ry="0.8" fill="#2a2a2a" fill-opacity="0.68" transform="rotate(100 745.1 409.2)"/>
<ellipse cx="320.7" cy="518.8" rx="1.3" ry="1.0" fill="#2a2a2a" fill-opacity="0.44" transform="rotate(155 320.7 518.8)"/>
<ellipse cx="713.5" cy="436.2" rx="1.7" ry="1.3" fill="#2a2a2a" fill-opacity="0.60" transform="rotate(156 713.5 436.2)"/>
<ellipse cx="187.3" cy="293.4" rx="2.0" ry="1.7" fill="#2a2a2a" fill-opacity="0.44" transform="rotate(175 187.3 293.4)"/>
<circle cx="677.1" cy="510.2" r="0.9" fill="#e8e8e8" fill-opacity="0.71"/>
<ellipse cx="509.3" cy="669.9" rx="2.2" ry="1.7" fill="#2a2a2a" fill-opacity="0.55" transform="rotate(37 509.3 669.9)"/>
<ellipse cx="535.4" cy="363.5" rx="1.7" ry="0.8" fill="#2a2a2a" fill-opacity="0.60" transform="rotate(151 535.4 363.5)"/>
<circle cx="254.0" cy="82.5" r="1.0" fill="#e8e8e8" fill-opacity="0.49"/>
<ellipse cx="271.4" cy="171.2" rx="1.8" ry="1.2" fill="#2a2a2a" fill-opacity="0.58" transform="rotate(76 271.4 171.2)"/>
<ellipse cx="142.6" cy="213.5" rx="2.1" ry="1.1" fill="#2a2a2a" fill-opacity="0.48" transform="rotate(88 142.6 213.5)"/>
<ellipse cx="119.1" cy="315.2" rx="2.3" ry="1.1" fill="#2a2a2a" fill-opacity="0.48" transform="rotate(134 119.1 315.2)"/>
<ellipse cx="277.9" cy="477.4" rx="2.3" ry="1.2" fill="#2a2a2a" fill-opacity="0.51" transform="rotate(167 277.9 477.4)"/>
<ellipse cx="633.8" cy="438.6" rx="1.2" ry="1.1" fill="#2a2a2a" fill-opacity="0.62" transform="rotate(57 633.8 438.6)"/>
<ellipse cx="291.6" cy="101.6" rx="1.8" ry="1.2" fill="#2a2a2a" fill-opacity="0.50" transform="rotate(74 291.6 101.6)"/>
<ellipse cx="601.1" cy="704.8" rx="1.0" ry="1.6" fill="#2a2a2a" fill-opacity="0.52" transform="rotate(122 601.1 704.8)"/>
<ellipse cx="185.4" cy="338.3" rx="2.0" ry="1.5" fill="#2a2a2a" fill-opacity="0.77" transform="rotate(84 185.4 338.3)"/>
<ellipse cx="415.0" cy="362.1" rx="1.7" ry="1.5" fill="#2a2a2a" fill-opacity="0.43" transform="rotate(136 415.0 362.1)"/>
<ellipse cx="236.6" cy="77.4" rx="2.2" ry="1.6" fill="#2a2a2a" fill-opacity="0.74" transform="rotate(156 236.6 77.4)"/>
<ellipse cx="67.4" cy="282.5" rx="2.1" ry="1.3" fill="#2a2a2a" fill-opacity="0.68" transform="rotate(2 67.4 282.5)"/>
<circle cx="98.3" cy="82.5" r="1.0" fill="#e8e8e8" fill-opacity="0.66"/>
<ellipse cx="47.4" cy="167.8" rx="1.1" ry="1.3" fill="#2a2a2a" fill-opacity="0.77" transform="rotate(54 47.4 167.8)"/>
<circle cx="290.2" cy="327.5" r="1.0" fill="#e8e8e8" fill-opacity="0.53"/>
<ellipse cx="596.9" cy="464.5" rx="2.1" ry="1.2" fill="#2a2a2a" fill-opacity="0.67" transform="rotate(89 596.9 464.5)"/>
<ellipse cx="387.2" cy="380.0" rx="1.2" ry="1.5" fill="#2a2a2a" fill-opacity="0.71" transform="rotate(161 387.2 380.0)"/>
<ellipse cx="253.6" cy="183.8" rx="2.3" ry="1.2" fill="#2a2a2a" fill-opacity="0.53" transform="rotate(133 253.6 183.8)"/>
<ellipse cx="262.1" cy="259.2" rx="1.2" ry="1.2" fill="#2a2a2a" fill-opacity="0.43" transform="rotate(98 262.1 259.2)"/>
<ellipse cx="619.4" cy="429.3" rx="2.3" ry="1.2" fill="#2a2a2a" fill-opacity="0.45" transform="rotate(25 619.4 429.3)"/>
<ellipse cx="623.1" cy="324.5" rx="1.9" ry="1.3" fill="#2a2a2a" fill-opacity="0.72" transform="rotate(64 623.1 324.5)"/>
<ellipse cx="528.0" cy="361.7" rx="1.7" ry="1.6" fill="#2a2a2a" fill-opacity="0.44" transform="rotate(76 528.0 361.7)"/>
<ellipse cx="687.4" cy="557.9" rx="1.2" ry="1.7" fill="#2a2a2a" fill-opacity="0.67" transform="rotate(143 687.4 557.9)"/>
<ellipse cx="534.1" cy="186.2" rx="1.2" ry="1.2" fill="#2a2a2a" fill-opacity="0.44" transform="rotate(132 534.1 186.2)"/>
<ellipse cx="382.6" cy="357.4" rx="2.1" ry="1.1" fill="#2a2a2a" fill-opacity="0.48" transform="rotate(160 382.6 357.4)"/>
<ellipse cx="399.1" cy="409.1" rx="2.4" ry="1.3" fill="#2a2a2a" fill-opacity="0.46" transform="rotate(51 399.1 409.1)"/>
<ellipse cx="475.2" cy="271.9" rx="1.5" ry="0.8" fill="#2a2a2a" fill-opacity="0.37" transform="rotate(40 475.2 271.9)"/>
<ellipse cx="290.6" cy="140.5" rx="2.2" ry="1.3" fill="#2a2a2a" fill-opacity="0.58" transform="rotate(137 290.6 140.5)"/>
<ellipse cx="139.8" cy="218.9" rx="2.2" ry="1.6" fill="#2a2a2a" fill-opacity="0.61" transform="rotate(38 139.8 218.9)"/>
<ellipse cx="394.7" cy="481.0" rx="1.6" ry="1.2" fill="#2a2a2a" fill-opacity="0.36" transform="rotate(165 394.7 481.0)"/>
<circle cx="594.1" cy="445.2" r="1.0" fill="#e8e8e8" fill-opacity="0.52"/>
<ellipse cx="124.5" cy="147.0" rx="1.1" ry="1.5" fill="#2a2a2a" fill-opacity="0.53" transform="rotate(108 124.5 147.0)"/>
<circle cx="643.9" cy="492.4" r="0.8" fill="#e8e8e8" fill-opacity="0.51"/>
<ellipse cx="324.8" cy="316.8" rx="2.2" ry="1.5" fill="#2a2a2a" fill-opacity="0.77" transform="rotate(178 324.8 316.8)"/>
<ellipse cx="512.2" cy="684.6" rx="2.3" ry="1.2" fill="#2a2a2a" fill-opacity="0.66" transform="rotate(73 512.2 684.6)"/>
<circle cx="525.4" cy="179.8" r="0.8" fill="#e8e8e8" fill-opacity="0.66"/>
<ellipse cx="420.3" cy="157.0" rx="1.7" ry="1.8" fill="#2a2a2a" fill-opacity="0.75" transform="rotate(150 420.3 157.0)"/>
<ellipse cx="747.4" cy="536.3" rx="1.4" ry="1.2" fill="#2a2a2a" fill-opacity="0.61" transform="rotate(23 747.4 536.3)"/>
<ellipse cx="492.7" cy="587.2" rx="1.4" ry="1.7" fill="#2a2a2a" fill-opacity="0.65" transform="rotate(96 492.7 587.2)"/>
<ellipse cx="550.6" cy="551.6" rx="1.5" ry="0.9" fill="#2a2a2a" fill-opacity="0.79" transform="rotate(82 550.6 551.6)"/>
<ellipse cx="746.4" cy="541.4" rx="1.3" ry="1.5" fill="#2a2a2a" fill-opacity="0.72" transform="rotate(167 746.4 541.4)"/>
<ellipse cx="693.2" cy="468.4" rx="1.3" ry="1.7" fill="#2a2a2a" fill-opacity="0.47" transform="rotate(63 693.2 468.4)"/>
<circle cx="553.4" cy="536.6" r="0.9" fill="#e8e8e8" fill-opacity="0.63"/>
<ellipse cx="795.4" cy="472.1" rx="2.2" ry="0.8" fill="#2a2a2a" fill-opacity="0.71" transform="rotate(159 795.4 472.1)"/>
<ellipse cx="470.1" cy="663.9" rx="1.5" ry="1.5" fill="#2a2a2a" fill-opacity="0.41" transform="rotate(44 470.1 663.9)"/>
<circle cx="451.3" cy="134.1" r="1.4" fill="#e8e8e8" fill-opacity="0.70"/>
<ellipse cx="422.1" cy="64.4" rx="2.2" ry="1.4" fill="#2a2a2a" fill-opacity="0.49" transform="rotate(77 422.1 64.4)"/>
<circle cx="351.1" cy="76.9" r="0.9" fill="#e8e8e8" fill-opacity="0.50"/>
<ellipse cx="468.0" cy="609.9" rx="1.5" ry="1.6" fill="#2a2a2a" fill-opacity="0.72" transform="rotate(148 468.0 609.9)"/>
<circle cx="578.3" cy="646.3" r="0.8" fill="#e8e8e8" fill-opacity="0.43"/>
<ellipse cx="492.2" cy="124.6" rx="1.9" ry="0.9" fill="#2a2a2a" fill-opacity="0.51" transform="rotate(136 492.2 124.6)"/>
<ellipse cx="757.2" cy="583.0" rx="2.1" ry="1.2" fill="#2a2a2a" fill-opacity="0.45" transform="rotate(11 757.2 583.0)"/>
<ellipse cx="96.0" cy="70.2" rx="1.9" ry="1.6" fill="#2a2a2a" fill-opacity="0.43" transform="rotate(47 96.0 70.2)"/>
<circle cx="95.2" cy="263.0" r="1.2" fill="#e8e8e8" fill-opacity="0.46"/>
<ellipse cx="531.5" cy="584.8" rx="1.1" ry="1.0" fill="#2a2a2a" fill-opacity="0.63" transform="rotate(6 531.5 584.8)"/>
<ellipse cx="390.2" cy="549.1" rx="1.2" ry="1.0" fill="#2a2a2a" fill-opacity="0.41" transform="rotate(80 390.2 549.1)"/>
<ellipse cx="593.2" cy="404.1" rx="1.0" ry="0.9" fill="#2a2a2a" fill-opacity="0.46" transform="rotate(117 593.2 404.1)"/>
<circle cx="216.9" cy="300.7" r="1.3" fill="#e8e8e8" fill-opacity="0.64"/>
<circle cx="103.8" cy="343.5" r="1.5" fill="#e8e8e8" fill-opacity="0.79"/>
<circle cx="703.1" cy="395.0" r="0.9" fill="#e8e8e8" fill-opacity="0.43"/>
<ellipse cx="410.4" cy="577.1" rx="1.5" ry="1.4" fill="#2a2a2a" fill-opacity="0.76" transform="rotate(85 410.4 577.1)"/>
<ellipse cx="407.7" cy="500.6" rx="2.2" ry="0.9" fill="#2a2a2a" fill-opacity="0.75" transform="rotate(151 407.7 500.6)"/>
<ellipse cx="491.2" cy="38.1" rx="1.0" ry="1.0" fill="#2a2a2a" fill-opacity="0.40" transform="rotate(72 491.2 38.1)"/>
</g>
</g>
<rect x="564.8" y="678.4" width="255.2" height="18.6" fill="#fff"/>
<circle cx="783.8" cy="79.6" r="54" fill="#fff" stroke="#000" stroke-width="1"/>
<text transform="translate(786.50,107.00) scale(1.000,1.040)" font-size="76.2" fill="#000" text-anchor="middle">A</text>
<text transform="translate(179.00,268.30) scale(1.000,1.020)" font-size="46.5" fill="#fff">Flo-Cdl</text>
<text transform="translate(664.00,303.30) scale(1.000,1.030)" font-size="46.7" fill="#fff">Mnz-Ce</text>
<text transform="translate(72.60,676.60) scale(1.000,1.030)" font-size="46.7" fill="#000">Mnz-Ce</text>
<text transform="translate(633.5,661) scale(1,1.01)" font-size="50.2" fill="#fff" style="word-spacing:2.6px">50 µm</text>
<line x1="717.8" y1="321.2" x2="640" y2="360.6" stroke="#fff" stroke-width="5.5"/>
<polygon points="616.2,372.6 634.9,347.6 647.7,374.5" fill="#fff"/>
<circle cx="924.7" cy="82.6" r="54" fill="#fff" stroke="#000" stroke-width="2"/>
<text transform="translate(926.30,110.60) scale(1.045,1.040)" font-size="76.2" fill="#000" text-anchor="middle">B</text>
<text transform="translate(924.20,595.80) rotate(-90) scale(1.000,1.040)" font-size="50.5" fill="#000">sample/chrondrite</text>
<line x1="961.3" y1="537.6" x2="961.3" y2="270" stroke="#000" stroke-width="3.4"/>
<polygon points="961.3,245 975.2,276.5 961.3,271 947.4,276.5" fill="#000"/>
<text transform="translate(1035.00,703.30) scale(1.000,1.045)" font-size="50.5" fill="#000">LREE</text>
<text transform="translate(1612.00,703.30) scale(1.000,1.045)" font-size="50.5" fill="#000">HREE</text>
<line x1="1204.5" y1="684.9" x2="1565" y2="684.9" stroke="#000" stroke-width="3.4"/>
<polygon points="1590.4,684.9 1559,697.8 1564.5,684.9 1559,672.2" fill="#000"/>
<path d="M1103.3 91.4 V561.3 H1765.6" fill="none" stroke="#000" stroke-width="2"/>
<line x1="1096.5" y1="92.2" x2="1103.3" y2="92.2" stroke="#000" stroke-width="1.6"/>
<line x1="1096.5" y1="170.2" x2="1103.3" y2="170.2" stroke="#000" stroke-width="1.6"/>
<line x1="1096.5" y1="248.6" x2="1103.3" y2="248.6" stroke="#000" stroke-width="1.6"/>
<line x1="1096.5" y1="327.0" x2="1103.3" y2="327.0" stroke="#000" stroke-width="1.6"/>
<line x1="1096.5" y1="404.8" x2="1103.3" y2="404.8" stroke="#000" stroke-width="1.6"/>
<line x1="1096.5" y1="482.9" x2="1103.3" y2="482.9" stroke="#000" stroke-width="1.6"/>
<line x1="1096.5" y1="561.3" x2="1103.3" y2="561.3" stroke="#000" stroke-width="1.6"/>
<line x1="1102.7" y1="561.3" x2="1102.7" y2="570.8" stroke="#000" stroke-width="1.6"/>
<line x1="1146.9" y1="561.3" x2="1146.9" y2="570.8" stroke="#000" stroke-width="1.6"/>
<line x1="1191.0" y1="561.3" x2="1191.0" y2="570.8" stroke="#000" stroke-width="1.6"/>
<line x1="1235.2" y1="561.3" x2="1235.2" y2="570.8" stroke="#000" stroke-width="1.6"/>
<line x1="1279.3" y1="561.3" x2="1279.3" y2="570.8" stroke="#000" stroke-width="1.6"/>
<line x1="1323.5" y1="561.3" x2="1323.5" y2="570.8" stroke="#000" stroke-width="1.6"/>
<line x1="1367.6" y1="561.3" x2="1367.6" y2="570.8" stroke="#000" stroke-width="1.6"/>
<line x1="1411.8" y1="561.3" x2="1411.8" y2="570.8" stroke="#000" stroke-width="1.6"/>
<line x1="1455.9" y1="561.3" x2="1455.9" y2="570.8" stroke="#000" stroke-width="1.6"/>
<line x1="1500.0" y1="561.3" x2="1500.0" y2="570.8" stroke="#000" stroke-width="1.6"/>
<line x1="1544.2" y1="561.3" x2="1544.2" y2="570.8" stroke="#000" stroke-width="1.6"/>
<line x1="1588.3" y1="561.3" x2="1588.3" y2="570.8" stroke="#000" stroke-width="1.6"/>
<line x1="1632.5" y1="561.3" x2="1632.5" y2="570.8" stroke="#000" stroke-width="1.6"/>
<line x1="1676.7" y1="561.3" x2="1676.7" y2="570.8" stroke="#000" stroke-width="1.6"/>
<line x1="1720.8" y1="561.3" x2="1720.8" y2="570.8" stroke="#000" stroke-width="1.6"/>
<line x1="1765.0" y1="561.3" x2="1765.0" y2="570.8" stroke="#000" stroke-width="1.6"/>
<text transform="translate(1023.30,110.90) scale(0.830,1.040)" font-size="41.7" fill="#000">10</text>
<text transform="translate(1061.30,77.60) scale(0.850,1.040)" font-size="33.5" fill="#000">6</text>
<text transform="translate(1023.30,185.60) scale(0.830,1.040)" font-size="41.7" fill="#000">10</text>
<text transform="translate(1061.30,151.60) scale(0.850,1.040)" font-size="33.5" fill="#000">5</text>
<text transform="translate(1023.30,263.70) scale(0.830,1.040)" font-size="41.7" fill="#000">10</text>
<text transform="translate(1061.30,228.70) scale(0.850,1.040)" font-size="33.5" fill="#000">4</text>
<text transform="translate(1023.30,345.60) scale(0.830,1.040)" font-size="41.7" fill="#000">10</text>
<text transform="translate(1061.30,311.60) scale(0.850,1.040)" font-size="33.5" fill="#000">3</text>
<text transform="translate(1023.30,423.70) scale(0.830,1.040)" font-size="41.7" fill="#000">10</text>
<text transform="translate(1061.30,387.90) scale(0.850,1.040)" font-size="33.5" fill="#000">2</text>
<text transform="translate(1031.80,495.70) scale(0.830,1.040)" font-size="41.7" fill="#000">10</text>
<text transform="translate(1053.50,570.50) scale(0.830,1.040)" font-size="41.7" fill="#000">1</text>
<text transform="translate(1134.40,611.30) rotate(-90) scale(0.810,1.040)" font-size="33.8" fill="#000">La</text>
<text transform="translate(1178.30,611.30) rotate(-90) scale(0.810,1.040)" font-size="33.8" fill="#000">Ce</text>
<text transform="translate(1228.00,611.30) rotate(-90) scale(0.810,1.040)" font-size="33.8" fill="#000">Pr</text>
<text transform="translate(1265.70,611.30) rotate(-90) scale(0.810,1.040)" font-size="33.8" fill="#000">Nd</text>
<text transform="translate(1314.70,611.30) rotate(-90) scale(0.810,1.040)" font-size="33.8" fill="#000">Sm</text>
<text transform="translate(1357.00,611.30) rotate(-90) scale(0.810,1.040)" font-size="33.8" fill="#000">Eu</text>
<text transform="translate(1399.90,611.30) rotate(-90) scale(0.810,1.040)" font-size="33.8" fill="#000">Gd</text>
<text transform="translate(1447.20,611.30) rotate(-90) scale(0.810,1.040)" font-size="33.8" fill="#000">Tb</text>
<text transform="translate(1485.50,611.30) rotate(-90) scale(0.810,1.040)" font-size="33.8" fill="#000">Dy</text>
<text transform="translate(1533.80,611.30) rotate(-90) scale(0.810,1.040)" font-size="33.8" fill="#000">Y</text>
<text transform="translate(1580.20,611.30) rotate(-90) scale(0.810,1.040)" font-size="33.8" fill="#000">Ho</text>
<text transform="translate(1621.40,611.30) rotate(-90) scale(0.810,1.040)" font-size="33.8" fill="#000">Er</text>
<text transform="translate(1662.30,611.30) rotate(-90) scale(0.810,1.040)" font-size="33.8" fill="#000">Tm</text>
<text transform="translate(1706.50,611.30) rotate(-90) scale(0.810,1.040)" font-size="33.8" fill="#000">Yb</text>
<text transform="translate(1756.40,611.30) rotate(-90) scale(0.810,1.040)" font-size="33.8" fill="#000">Lu</text>
<line x1="1103.3" y1="327.5" x2="1765.8" y2="327.5" stroke="#000" stroke-width="3.3" stroke-dasharray="20.7 10.6" stroke-dashoffset="15.1"/>
<line x1="1096.5" y1="402.6" x2="1103" y2="402.6" stroke="#000" stroke-width="1.4"/>
<line x1="1113.8" y1="402.6" x2="1759" y2="402.6" stroke="#000" stroke-width="1.4" stroke-dasharray="20.6 10.7"/>
<line x1="1346.4" y1="72.5" x2="1346.4" y2="561" stroke="#000" stroke-width="1.7" stroke-dasharray="20.7 10.65"/>
<line x1="1523.5" y1="72.5" x2="1523.5" y2="561" stroke="#000" stroke-width="1.7" stroke-dasharray="20.7 10.65"/>
<text transform="translate(1408.50,129.10) scale(1.000,1.040)" font-size="38.2" fill="#000">Florencite</text>
<text transform="translate(1408.50,170.90) scale(1.000,1.040)" font-size="38.2" fill="#000">CZ (blue)</text>
<text transform="translate(1408.50,213.50) scale(1.000,1.040)" font-size="38.2" fill="#000">Duncan 6% (purple)</text>
<polyline points="1123.0,134.4 1171.0,145.4 1214.8,159.5 1257.0,172.4 1301.5,205.3 1346.4,224.6 1390.3,248.0 1434.2,283.5 1478.1,310.5 1521.6,349.0 1565.9,336.0 1610.2,350.7 1654.4,371.5 1698.5,380.5 1743.0,390.6" fill="none" stroke="#100cea" stroke-width="2.4" stroke-linejoin="round"/>
<polyline points="1123.0,141.3 1171.0,149.5 1214.8,163.0 1257.0,176.0 1301.5,212.9 1346.4,230.0 1390.3,251.0 1434.2,289.2 1478.1,312.5 1521.6,350.5 1565.9,337.3 1610.2,352.0 1654.4,375.0 1698.5,385.5 1743.0,396.0" fill="none" stroke="#100cea" stroke-width="2.4" stroke-linejoin="round"/>
<polyline points="1123.0,160.5 1171.0,175.5 1214.8,187.5 1257.0,195.0 1301.5,227.5 1346.4,242.0 1390.3,256.0 1434.2,292.0 1478.1,314.5 1521.6,351.5 1565.9,338.4 1610.2,353.2 1654.4,376.0 1698.5,386.5 1743.0,397.5" fill="none" stroke="#100cea" stroke-width="2.4" stroke-linejoin="round"/>
<polyline points="1123.0,162.3 1171.0,177.5 1214.8,189.7 1257.0,197.0 1301.5,229.5 1346.4,245.0 1390.3,259.0 1434.2,294.5 1478.1,316.0 1521.6,352.7 1565.9,339.5 1610.2,354.5 1654.4,377.5 1698.5,389.0 1743.0,402.0" fill="none" stroke="#100cea" stroke-width="2.4" stroke-linejoin="round"/>
<polyline points="1123.0,164.0 1171.0,180.0 1214.8,192.0 1257.0,199.5 1301.5,231.4 1346.4,248.0 1390.3,261.3 1434.2,297.0 1478.1,318.0 1521.6,354.0 1565.9,340.8 1610.2,356.0 1654.4,378.5 1698.5,390.0 1743.0,403.5" fill="none" stroke="#100cea" stroke-width="2.4" stroke-linejoin="round"/>
<polyline points="1127.2,144.0 1173.0,150.2 1216.5,161.5 1259.5,173.7 1303.5,215.0 1347.8,227.5 1391.8,238.5 1435.7,253.0 1479.8,264.5 1523.9,294.0 1569.0,286.0 1613.6,301.0 1659.0,325.5 1703.0,339.5 1747.3,353.5" fill="none" stroke="#9a16c0" stroke-width="2.4" stroke-linejoin="round"/>
<polyline points="1127.2,146.5 1173.0,153.0 1216.5,164.5 1259.5,176.5 1303.5,219.0 1347.8,230.0 1391.8,240.5 1435.7,255.5 1479.8,267.0 1523.9,296.0 1569.0,288.0 1613.6,303.5 1659.0,328.0 1703.0,342.4 1747.3,356.8" fill="none" stroke="#9a16c0" stroke-width="2.4" stroke-linejoin="round"/>
<polyline points="1127.2,148.8 1173.0,156.0 1216.5,167.5 1259.5,179.5 1303.5,223.0 1347.8,233.0 1391.8,242.5 1435.7,258.0 1479.8,270.0 1523.9,298.5 1569.0,290.5 1613.6,306.0 1659.0,331.0 1703.0,348.0 1747.3,365.1" fill="none" stroke="#9a16c0" stroke-width="2.4" stroke-linejoin="round"/>
<polyline points="1127.2,153.6 1173.0,159.0 1216.5,170.5 1259.5,182.5 1303.5,227.0 1347.8,236.0 1391.8,244.5 1435.7,261.0 1479.8,273.0 1523.9,304.0 1569.0,296.0 1613.6,311.5 1659.0,334.0 1703.0,352.0 1747.3,370.5" fill="none" stroke="#9a16c0" stroke-width="2.4" stroke-linejoin="round"/>
<polyline points="1127.2,155.7 1173.0,162.0 1216.5,173.5 1259.5,186.0 1303.5,231.0 1347.8,239.0 1391.8,246.5 1435.7,264.0 1479.8,276.0 1523.9,305.5 1569.0,298.0 1613.6,313.0 1659.0,337.0 1703.0,354.7 1747.3,373.0" fill="none" stroke="#9a16c0" stroke-width="2.4" stroke-linejoin="round"/>
<polyline points="1127.2,157.8 1173.0,165.3 1216.5,180.0 1259.5,193.0 1303.5,237.0 1347.8,241.5 1391.8,248.5 1435.7,267.0 1479.8,279.0 1523.9,310.0 1569.0,300.5 1613.6,315.0 1659.0,340.5 1703.0,357.7 1747.3,375.0" fill="none" stroke="#9a16c0" stroke-width="2.4" stroke-linejoin="round"/>
<polyline points="1127.2,164.0 1173.0,198.6 1216.5,195.5 1259.5,205.9 1303.5,239.5 1347.8,243.5 1391.8,250.5 1435.7,269.5 1479.8,281.3 1523.9,311.0 1569.0,302.0 1613.6,317.0 1659.0,343.5 1703.0,362.0 1747.3,380.7" fill="none" stroke="#9a16c0" stroke-width="2.4" stroke-linejoin="round"/>
</svg>
</body></html>
